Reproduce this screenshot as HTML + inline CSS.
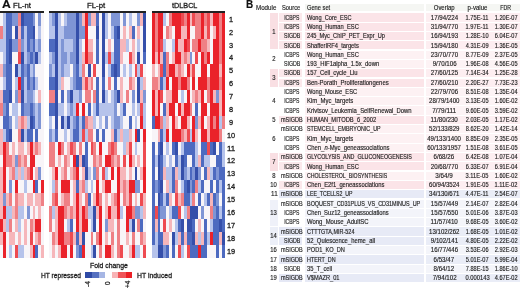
<!DOCTYPE html>
<html><head><meta charset="utf-8"><style>
html,body{margin:0;padding:0;background:#fff;}
body{width:520px;height:288px;position:relative;overflow:hidden;font-family:"Liberation Sans",sans-serif;}
.t{position:absolute;white-space:nowrap;line-height:1;-webkit-text-stroke:0.15px currentColor;}
.bx{position:absolute;}
svg{position:absolute;left:0;top:0;}
#wrap{position:absolute;left:0;top:0;width:520px;height:288px;filter:blur(0.3px);}
</style></head><body><div id="wrap">
<div class="bx" style="left:304.9px;top:3.6px;width:119.4px;height:7.9px;background:#f5f6f3"></div><div class="bx" style="left:426px;top:3.6px;width:94px;height:7.9px;background:#f5f6f3"></div><div class="bx" style="left:278.6px;top:13.35px;width:23.8px;height:8.2px;background:#fbe8eb"></div><div class="bx" style="left:304.9px;top:13.35px;width:119.4px;height:8.2px;background:#fbe4e8"></div><div class="bx" style="left:426px;top:13.35px;width:94px;height:8.2px;background:#fdeef1"></div><div class="bx" style="left:278.6px;top:22.66px;width:23.8px;height:8.2px;background:#fbe8eb"></div><div class="bx" style="left:304.9px;top:22.66px;width:119.4px;height:8.2px;background:#fbe4e8"></div><div class="bx" style="left:426px;top:22.66px;width:94px;height:8.2px;background:#fdeef1"></div><div class="bx" style="left:278.6px;top:31.97px;width:23.8px;height:8.2px;background:#fbe8eb"></div><div class="bx" style="left:304.9px;top:31.97px;width:119.4px;height:8.2px;background:#fbe4e8"></div><div class="bx" style="left:426px;top:31.97px;width:94px;height:8.2px;background:#fdeef1"></div><div class="bx" style="left:278.6px;top:41.28px;width:23.8px;height:8.2px;background:#fbe8eb"></div><div class="bx" style="left:304.9px;top:41.28px;width:119.4px;height:8.2px;background:#fbe4e8"></div><div class="bx" style="left:426px;top:41.28px;width:94px;height:8.2px;background:#fdeef1"></div><div class="bx" style="left:304.9px;top:50.59px;width:119.4px;height:8.2px;background:#fdf1f3"></div><div class="bx" style="left:426px;top:50.59px;width:94px;height:8.2px;background:#fdf3f5"></div><div class="bx" style="left:304.9px;top:59.90px;width:119.4px;height:8.2px;background:#fdf1f3"></div><div class="bx" style="left:426px;top:59.90px;width:94px;height:8.2px;background:#fdf3f5"></div><div class="bx" style="left:278.6px;top:69.21px;width:23.8px;height:8.2px;background:#fbe8eb"></div><div class="bx" style="left:304.9px;top:69.21px;width:119.4px;height:8.2px;background:#fbe4e8"></div><div class="bx" style="left:426px;top:69.21px;width:94px;height:8.2px;background:#fdeef1"></div><div class="bx" style="left:278.6px;top:78.52px;width:23.8px;height:8.2px;background:#fbe8eb"></div><div class="bx" style="left:304.9px;top:78.52px;width:119.4px;height:8.2px;background:#fbe4e8"></div><div class="bx" style="left:426px;top:78.52px;width:94px;height:8.2px;background:#fdeef1"></div><div class="bx" style="left:304.9px;top:87.83px;width:119.4px;height:8.2px;background:#fdf1f3"></div><div class="bx" style="left:426px;top:87.83px;width:94px;height:8.2px;background:#fdf3f5"></div><div class="bx" style="left:304.9px;top:97.14px;width:119.4px;height:8.2px;background:#fdf1f3"></div><div class="bx" style="left:426px;top:97.14px;width:94px;height:8.2px;background:#fdf3f5"></div><div class="bx" style="left:304.9px;top:106.45px;width:119.4px;height:8.2px;background:#fdf1f3"></div><div class="bx" style="left:426px;top:106.45px;width:94px;height:8.2px;background:#fdf3f5"></div><div class="bx" style="left:278.6px;top:115.76px;width:23.8px;height:8.2px;background:#fbe8eb"></div><div class="bx" style="left:304.9px;top:115.76px;width:119.4px;height:8.2px;background:#fbe4e8"></div><div class="bx" style="left:426px;top:115.76px;width:94px;height:8.2px;background:#fdeef1"></div><div class="bx" style="left:304.9px;top:125.07px;width:119.4px;height:8.2px;background:#fdf1f3"></div><div class="bx" style="left:426px;top:125.07px;width:94px;height:8.2px;background:#fdf3f5"></div><div class="bx" style="left:304.9px;top:134.38px;width:119.4px;height:8.2px;background:#fdf1f3"></div><div class="bx" style="left:426px;top:134.38px;width:94px;height:8.2px;background:#fdf3f5"></div><div class="bx" style="left:304.9px;top:143.69px;width:119.4px;height:8.2px;background:#fdf1f3"></div><div class="bx" style="left:426px;top:143.69px;width:94px;height:8.2px;background:#fdf3f5"></div><div class="bx" style="left:278.6px;top:153.00px;width:23.8px;height:8.2px;background:#fbe8eb"></div><div class="bx" style="left:304.9px;top:153.00px;width:119.4px;height:8.2px;background:#fbe4e8"></div><div class="bx" style="left:426px;top:153.00px;width:94px;height:8.2px;background:#fdeef1"></div><div class="bx" style="left:278.6px;top:162.31px;width:23.8px;height:8.2px;background:#fbe8eb"></div><div class="bx" style="left:304.9px;top:162.31px;width:119.4px;height:8.2px;background:#fbe4e8"></div><div class="bx" style="left:426px;top:162.31px;width:94px;height:8.2px;background:#fdeef1"></div><div class="bx" style="left:304.9px;top:171.62px;width:119.4px;height:8.2px;background:#fdf1f3"></div><div class="bx" style="left:426px;top:171.62px;width:94px;height:8.2px;background:#fdf3f5"></div><div class="bx" style="left:278.6px;top:180.93px;width:23.8px;height:8.2px;background:#fbe8eb"></div><div class="bx" style="left:304.9px;top:180.93px;width:119.4px;height:8.2px;background:#fbe4e8"></div><div class="bx" style="left:426px;top:180.93px;width:94px;height:8.2px;background:#fdeef1"></div><div class="bx" style="left:278.6px;top:190.24px;width:23.8px;height:8.2px;background:#e5e8f5"></div><div class="bx" style="left:304.9px;top:190.24px;width:119.4px;height:8.2px;background:#e7eaf6"></div><div class="bx" style="left:426px;top:190.24px;width:94px;height:8.2px;background:#eaedf7"></div><div class="bx" style="left:304.9px;top:199.55px;width:119.4px;height:8.2px;background:#f3f4fa"></div><div class="bx" style="left:426px;top:199.55px;width:94px;height:8.2px;background:#f4f5fa"></div><div class="bx" style="left:304.9px;top:208.86px;width:119.4px;height:8.2px;background:#f3f4fa"></div><div class="bx" style="left:426px;top:208.86px;width:94px;height:8.2px;background:#f4f5fa"></div><div class="bx" style="left:304.9px;top:218.17px;width:119.4px;height:8.2px;background:#f3f4fa"></div><div class="bx" style="left:426px;top:218.17px;width:94px;height:8.2px;background:#f4f5fa"></div><div class="bx" style="left:278.6px;top:227.48px;width:23.8px;height:8.2px;background:#e5e8f5"></div><div class="bx" style="left:304.9px;top:227.48px;width:119.4px;height:8.2px;background:#e7eaf6"></div><div class="bx" style="left:426px;top:227.48px;width:94px;height:8.2px;background:#eaedf7"></div><div class="bx" style="left:278.6px;top:236.79px;width:23.8px;height:8.2px;background:#e5e8f5"></div><div class="bx" style="left:304.9px;top:236.79px;width:119.4px;height:8.2px;background:#e7eaf6"></div><div class="bx" style="left:426px;top:236.79px;width:94px;height:8.2px;background:#eaedf7"></div><div class="bx" style="left:304.9px;top:246.10px;width:119.4px;height:8.2px;background:#f3f4fa"></div><div class="bx" style="left:426px;top:246.10px;width:94px;height:8.2px;background:#f4f5fa"></div><div class="bx" style="left:278.6px;top:255.41px;width:23.8px;height:8.2px;background:#e5e8f5"></div><div class="bx" style="left:304.9px;top:255.41px;width:119.4px;height:8.2px;background:#e7eaf6"></div><div class="bx" style="left:426px;top:255.41px;width:94px;height:8.2px;background:#eaedf7"></div><div class="bx" style="left:304.9px;top:264.72px;width:119.4px;height:8.2px;background:#f3f4fa"></div><div class="bx" style="left:426px;top:264.72px;width:94px;height:8.2px;background:#f4f5fa"></div><div class="bx" style="left:278.6px;top:274.03px;width:23.8px;height:8.2px;background:#e5e8f5"></div><div class="bx" style="left:304.9px;top:274.03px;width:119.4px;height:8.2px;background:#e7eaf6"></div><div class="bx" style="left:426px;top:274.03px;width:94px;height:8.2px;background:#eaedf7"></div><div class="bx" style="left:270.3px;top:13.35px;width:7.4px;height:36.13px;background:#f9dfe3"></div><div class="bx" style="left:270.3px;top:69.21px;width:7.4px;height:17.51px;background:#f9dfe3"></div><div class="bx" style="left:270.3px;top:153.00px;width:7.4px;height:17.51px;background:#f9dfe3"></div><div class="bx" style="left:270.3px;top:199.55px;width:7.4px;height:26.82px;background:#eff1f9"></div><div class="bx" style="left:270.3px;top:227.48px;width:7.4px;height:17.51px;background:#eceff8"></div>
<svg width="520" height="288" viewBox="0 0 520 288" shape-rendering="crispEdges">
<defs><filter id="bl" x="-2%" y="-2%" width="104%" height="104%"><feGaussianBlur stdDeviation="0.45"/></filter></defs>
<g filter="url(#bl)">
<rect x="0.30" y="12.90" width="2.93" height="12.88" fill="#f8f5f8"/>
<rect x="3.23" y="12.90" width="2.93" height="12.88" fill="#b6c3eb"/>
<rect x="6.16" y="12.90" width="5.86" height="12.88" fill="#4d6bc0"/>
<rect x="12.02" y="12.90" width="5.86" height="12.88" fill="#7f95d5"/>
<rect x="17.88" y="12.90" width="2.93" height="12.88" fill="#ef8085"/>
<rect x="20.81" y="12.90" width="2.93" height="12.88" fill="#3550aa"/>
<rect x="23.74" y="12.90" width="8.79" height="12.88" fill="#4d6bc0"/>
<rect x="32.53" y="12.90" width="2.93" height="12.88" fill="#7f95d5"/>
<rect x="35.46" y="12.90" width="2.93" height="12.88" fill="#f8f5f8"/>
<rect x="38.39" y="12.90" width="2.93" height="12.88" fill="#7f95d5"/>
<rect x="41.32" y="12.90" width="2.93" height="12.88" fill="#f8f5f8"/>
<rect x="49.40" y="12.90" width="2.94" height="12.88" fill="#b6c3eb"/>
<rect x="52.34" y="12.90" width="2.94" height="12.88" fill="#7f95d5"/>
<rect x="55.27" y="12.90" width="2.94" height="12.88" fill="#3550aa"/>
<rect x="58.21" y="12.90" width="2.94" height="12.88" fill="#b6c3eb"/>
<rect x="61.14" y="12.90" width="2.94" height="12.88" fill="#f8f5f8"/>
<rect x="64.08" y="12.90" width="2.94" height="12.88" fill="#b6c3eb"/>
<rect x="67.02" y="12.90" width="8.81" height="12.88" fill="#7f95d5"/>
<rect x="75.82" y="12.90" width="2.94" height="12.88" fill="#3550aa"/>
<rect x="78.76" y="12.90" width="2.94" height="12.88" fill="#7f95d5"/>
<rect x="81.70" y="12.90" width="2.94" height="12.88" fill="#f6b6ba"/>
<rect x="84.63" y="12.90" width="2.94" height="12.88" fill="#ea2129"/>
<rect x="87.57" y="12.90" width="2.94" height="12.88" fill="#7f95d5"/>
<rect x="90.50" y="12.90" width="5.87" height="12.88" fill="#f6b6ba"/>
<rect x="96.38" y="12.90" width="2.94" height="12.88" fill="#4d6bc0"/>
<rect x="99.31" y="12.90" width="2.94" height="12.88" fill="#f8f5f8"/>
<rect x="102.25" y="12.90" width="2.94" height="12.88" fill="#3550aa"/>
<rect x="105.18" y="12.90" width="2.94" height="12.88" fill="#b6c3eb"/>
<rect x="108.12" y="12.90" width="2.94" height="12.88" fill="#f8f5f8"/>
<rect x="111.06" y="12.90" width="8.81" height="12.88" fill="#7f95d5"/>
<rect x="119.86" y="12.90" width="2.94" height="12.88" fill="#f8f5f8"/>
<rect x="122.80" y="12.90" width="2.94" height="12.88" fill="#7f95d5"/>
<rect x="125.74" y="12.90" width="2.94" height="12.88" fill="#f8f5f8"/>
<rect x="128.67" y="12.90" width="2.94" height="12.88" fill="#b6c3eb"/>
<rect x="131.61" y="12.90" width="5.87" height="12.88" fill="#f8f5f8"/>
<rect x="137.48" y="12.90" width="2.94" height="12.88" fill="#7f95d5"/>
<rect x="140.42" y="12.90" width="2.94" height="12.88" fill="#f6b6ba"/>
<rect x="143.35" y="12.90" width="2.94" height="12.88" fill="#3550aa"/>
<rect x="151.70" y="12.90" width="2.91" height="12.88" fill="#ea2129"/>
<rect x="154.61" y="12.90" width="2.91" height="12.88" fill="#ef8085"/>
<rect x="157.52" y="12.90" width="5.82" height="12.88" fill="#ea2129"/>
<rect x="163.35" y="12.90" width="2.91" height="12.88" fill="#b6c3eb"/>
<rect x="166.26" y="12.90" width="2.91" height="12.88" fill="#f8f5f8"/>
<rect x="169.17" y="12.90" width="2.91" height="12.88" fill="#ef8085"/>
<rect x="172.08" y="12.90" width="8.74" height="12.88" fill="#ea2129"/>
<rect x="180.82" y="12.90" width="2.91" height="12.88" fill="#ee4c51"/>
<rect x="183.73" y="12.90" width="2.91" height="12.88" fill="#ef8085"/>
<rect x="186.64" y="12.90" width="2.91" height="12.88" fill="#ea2129"/>
<rect x="189.56" y="12.90" width="2.91" height="12.88" fill="#f6b6ba"/>
<rect x="192.47" y="12.90" width="2.91" height="12.88" fill="#ee4c51"/>
<rect x="195.38" y="12.90" width="5.82" height="12.88" fill="#ef8085"/>
<rect x="201.20" y="12.90" width="2.91" height="12.88" fill="#ea2129"/>
<rect x="204.12" y="12.90" width="2.91" height="12.88" fill="#ef8085"/>
<rect x="207.03" y="12.90" width="2.91" height="12.88" fill="#ee4c51"/>
<rect x="209.94" y="12.90" width="2.91" height="12.88" fill="#f6b6ba"/>
<rect x="212.85" y="12.90" width="5.82" height="12.88" fill="#ea2129"/>
<rect x="218.68" y="12.90" width="2.91" height="12.88" fill="#ef8085"/>
<rect x="221.59" y="12.90" width="2.91" height="12.88" fill="#ea2129"/>
<rect x="0.30" y="25.78" width="2.93" height="12.88" fill="#ef8085"/>
<rect x="3.23" y="25.78" width="2.93" height="12.88" fill="#b6c3eb"/>
<rect x="6.16" y="25.78" width="5.86" height="12.88" fill="#4d6bc0"/>
<rect x="12.02" y="25.78" width="2.93" height="12.88" fill="#f8f5f8"/>
<rect x="14.95" y="25.78" width="2.93" height="12.88" fill="#3550aa"/>
<rect x="17.88" y="25.78" width="2.93" height="12.88" fill="#f6b6ba"/>
<rect x="20.81" y="25.78" width="2.93" height="12.88" fill="#4d6bc0"/>
<rect x="23.74" y="25.78" width="2.93" height="12.88" fill="#b6c3eb"/>
<rect x="26.67" y="25.78" width="5.86" height="12.88" fill="#4d6bc0"/>
<rect x="32.53" y="25.78" width="2.93" height="12.88" fill="#3550aa"/>
<rect x="35.46" y="25.78" width="2.93" height="12.88" fill="#f8f5f8"/>
<rect x="38.39" y="25.78" width="2.93" height="12.88" fill="#b6c3eb"/>
<rect x="41.32" y="25.78" width="2.93" height="12.88" fill="#f8f5f8"/>
<rect x="49.40" y="25.78" width="5.87" height="12.88" fill="#b6c3eb"/>
<rect x="55.27" y="25.78" width="2.94" height="12.88" fill="#3550aa"/>
<rect x="58.21" y="25.78" width="5.87" height="12.88" fill="#b6c3eb"/>
<rect x="64.08" y="25.78" width="11.74" height="12.88" fill="#7f95d5"/>
<rect x="75.82" y="25.78" width="2.94" height="12.88" fill="#3550aa"/>
<rect x="78.76" y="25.78" width="5.87" height="12.88" fill="#7f95d5"/>
<rect x="84.63" y="25.78" width="2.94" height="12.88" fill="#ea2129"/>
<rect x="87.57" y="25.78" width="8.81" height="12.88" fill="#f8f5f8"/>
<rect x="96.38" y="25.78" width="2.94" height="12.88" fill="#3550aa"/>
<rect x="99.31" y="25.78" width="2.94" height="12.88" fill="#f8f5f8"/>
<rect x="102.25" y="25.78" width="2.94" height="12.88" fill="#3550aa"/>
<rect x="105.18" y="25.78" width="2.94" height="12.88" fill="#b6c3eb"/>
<rect x="108.12" y="25.78" width="2.94" height="12.88" fill="#f8f5f8"/>
<rect x="111.06" y="25.78" width="2.94" height="12.88" fill="#b6c3eb"/>
<rect x="113.99" y="25.78" width="2.94" height="12.88" fill="#4d6bc0"/>
<rect x="116.93" y="25.78" width="2.94" height="12.88" fill="#3550aa"/>
<rect x="119.86" y="25.78" width="2.94" height="12.88" fill="#f8f5f8"/>
<rect x="122.80" y="25.78" width="2.94" height="12.88" fill="#f6b6ba"/>
<rect x="125.74" y="25.78" width="2.94" height="12.88" fill="#f8f5f8"/>
<rect x="128.67" y="25.78" width="2.94" height="12.88" fill="#f6b6ba"/>
<rect x="131.61" y="25.78" width="2.94" height="12.88" fill="#4d6bc0"/>
<rect x="134.54" y="25.78" width="2.94" height="12.88" fill="#f8f5f8"/>
<rect x="137.48" y="25.78" width="2.94" height="12.88" fill="#f6b6ba"/>
<rect x="140.42" y="25.78" width="2.94" height="12.88" fill="#f8f5f8"/>
<rect x="143.35" y="25.78" width="2.94" height="12.88" fill="#3550aa"/>
<rect x="151.70" y="25.78" width="2.91" height="12.88" fill="#ea2129"/>
<rect x="154.61" y="25.78" width="2.91" height="12.88" fill="#ef8085"/>
<rect x="157.52" y="25.78" width="5.82" height="12.88" fill="#ea2129"/>
<rect x="163.35" y="25.78" width="2.91" height="12.88" fill="#f8f5f8"/>
<rect x="166.26" y="25.78" width="2.91" height="12.88" fill="#ef8085"/>
<rect x="169.17" y="25.78" width="2.91" height="12.88" fill="#f6b6ba"/>
<rect x="172.08" y="25.78" width="2.91" height="12.88" fill="#f8f5f8"/>
<rect x="175.00" y="25.78" width="5.82" height="12.88" fill="#ea2129"/>
<rect x="180.82" y="25.78" width="5.82" height="12.88" fill="#f6b6ba"/>
<rect x="186.64" y="25.78" width="2.91" height="12.88" fill="#ea2129"/>
<rect x="189.56" y="25.78" width="5.82" height="12.88" fill="#f8f5f8"/>
<rect x="195.38" y="25.78" width="5.82" height="12.88" fill="#ef8085"/>
<rect x="201.20" y="25.78" width="2.91" height="12.88" fill="#ea2129"/>
<rect x="204.12" y="25.78" width="2.91" height="12.88" fill="#f6b6ba"/>
<rect x="207.03" y="25.78" width="2.91" height="12.88" fill="#ee4c51"/>
<rect x="209.94" y="25.78" width="2.91" height="12.88" fill="#f8f5f8"/>
<rect x="212.85" y="25.78" width="2.91" height="12.88" fill="#f6b6ba"/>
<rect x="215.76" y="25.78" width="2.91" height="12.88" fill="#ea2129"/>
<rect x="218.68" y="25.78" width="2.91" height="12.88" fill="#ef8085"/>
<rect x="221.59" y="25.78" width="2.91" height="12.88" fill="#ea2129"/>
<rect x="0.30" y="38.65" width="5.86" height="12.88" fill="#b6c3eb"/>
<rect x="6.16" y="38.65" width="2.93" height="12.88" fill="#4d6bc0"/>
<rect x="9.09" y="38.65" width="2.93" height="12.88" fill="#3550aa"/>
<rect x="12.02" y="38.65" width="5.86" height="12.88" fill="#7f95d5"/>
<rect x="17.88" y="38.65" width="2.93" height="12.88" fill="#ef8085"/>
<rect x="20.81" y="38.65" width="2.93" height="12.88" fill="#7f95d5"/>
<rect x="23.74" y="38.65" width="2.93" height="12.88" fill="#b6c3eb"/>
<rect x="26.67" y="38.65" width="2.93" height="12.88" fill="#4d6bc0"/>
<rect x="29.60" y="38.65" width="2.93" height="12.88" fill="#7f95d5"/>
<rect x="32.53" y="38.65" width="2.93" height="12.88" fill="#4d6bc0"/>
<rect x="35.46" y="38.65" width="2.93" height="12.88" fill="#b6c3eb"/>
<rect x="38.39" y="38.65" width="2.93" height="12.88" fill="#7f95d5"/>
<rect x="41.32" y="38.65" width="2.93" height="12.88" fill="#f8f5f8"/>
<rect x="49.40" y="38.65" width="5.87" height="12.88" fill="#4d6bc0"/>
<rect x="55.27" y="38.65" width="2.94" height="12.88" fill="#3550aa"/>
<rect x="58.21" y="38.65" width="2.94" height="12.88" fill="#b6c3eb"/>
<rect x="61.14" y="38.65" width="2.94" height="12.88" fill="#7f95d5"/>
<rect x="64.08" y="38.65" width="8.81" height="12.88" fill="#b6c3eb"/>
<rect x="72.89" y="38.65" width="2.94" height="12.88" fill="#7f95d5"/>
<rect x="75.82" y="38.65" width="2.94" height="12.88" fill="#3550aa"/>
<rect x="78.76" y="38.65" width="2.94" height="12.88" fill="#b6c3eb"/>
<rect x="81.70" y="38.65" width="2.94" height="12.88" fill="#f8f5f8"/>
<rect x="84.63" y="38.65" width="2.94" height="12.88" fill="#ea2129"/>
<rect x="87.57" y="38.65" width="5.87" height="12.88" fill="#f6b6ba"/>
<rect x="93.44" y="38.65" width="2.94" height="12.88" fill="#f8f5f8"/>
<rect x="96.38" y="38.65" width="2.94" height="12.88" fill="#4d6bc0"/>
<rect x="99.31" y="38.65" width="2.94" height="12.88" fill="#f8f5f8"/>
<rect x="102.25" y="38.65" width="2.94" height="12.88" fill="#3550aa"/>
<rect x="105.18" y="38.65" width="2.94" height="12.88" fill="#f8f5f8"/>
<rect x="108.12" y="38.65" width="2.94" height="12.88" fill="#f6b6ba"/>
<rect x="111.06" y="38.65" width="2.94" height="12.88" fill="#f8f5f8"/>
<rect x="113.99" y="38.65" width="5.87" height="12.88" fill="#4d6bc0"/>
<rect x="119.86" y="38.65" width="5.87" height="12.88" fill="#f6b6ba"/>
<rect x="125.74" y="38.65" width="2.94" height="12.88" fill="#b6c3eb"/>
<rect x="128.67" y="38.65" width="2.94" height="12.88" fill="#f8f5f8"/>
<rect x="131.61" y="38.65" width="2.94" height="12.88" fill="#f6b6ba"/>
<rect x="134.54" y="38.65" width="2.94" height="12.88" fill="#f8f5f8"/>
<rect x="137.48" y="38.65" width="2.94" height="12.88" fill="#b6c3eb"/>
<rect x="140.42" y="38.65" width="2.94" height="12.88" fill="#f8f5f8"/>
<rect x="143.35" y="38.65" width="2.94" height="12.88" fill="#3550aa"/>
<rect x="151.70" y="38.65" width="2.91" height="12.88" fill="#ea2129"/>
<rect x="154.61" y="38.65" width="2.91" height="12.88" fill="#ef8085"/>
<rect x="157.52" y="38.65" width="2.91" height="12.88" fill="#ea2129"/>
<rect x="160.44" y="38.65" width="2.91" height="12.88" fill="#ee4c51"/>
<rect x="163.35" y="38.65" width="2.91" height="12.88" fill="#b6c3eb"/>
<rect x="166.26" y="38.65" width="5.82" height="12.88" fill="#f8f5f8"/>
<rect x="172.08" y="38.65" width="2.91" height="12.88" fill="#b6c3eb"/>
<rect x="175.00" y="38.65" width="2.91" height="12.88" fill="#ea2129"/>
<rect x="177.91" y="38.65" width="5.82" height="12.88" fill="#f6b6ba"/>
<rect x="183.73" y="38.65" width="2.91" height="12.88" fill="#ea2129"/>
<rect x="186.64" y="38.65" width="2.91" height="12.88" fill="#ee4c51"/>
<rect x="189.56" y="38.65" width="2.91" height="12.88" fill="#f8f5f8"/>
<rect x="192.47" y="38.65" width="5.82" height="12.88" fill="#ef8085"/>
<rect x="198.29" y="38.65" width="2.91" height="12.88" fill="#ea2129"/>
<rect x="201.20" y="38.65" width="5.82" height="12.88" fill="#ef8085"/>
<rect x="207.03" y="38.65" width="2.91" height="12.88" fill="#f6b6ba"/>
<rect x="209.94" y="38.65" width="2.91" height="12.88" fill="#f8f5f8"/>
<rect x="212.85" y="38.65" width="5.82" height="12.88" fill="#ea2129"/>
<rect x="218.68" y="38.65" width="2.91" height="12.88" fill="#ef8085"/>
<rect x="221.59" y="38.65" width="2.91" height="12.88" fill="#ea2129"/>
<rect x="0.30" y="51.53" width="2.93" height="12.88" fill="#f8f5f8"/>
<rect x="3.23" y="51.53" width="2.93" height="12.88" fill="#b6c3eb"/>
<rect x="6.16" y="51.53" width="2.93" height="12.88" fill="#4d6bc0"/>
<rect x="9.09" y="51.53" width="2.93" height="12.88" fill="#3550aa"/>
<rect x="12.02" y="51.53" width="5.86" height="12.88" fill="#f8f5f8"/>
<rect x="17.88" y="51.53" width="2.93" height="12.88" fill="#ee4c51"/>
<rect x="20.81" y="51.53" width="2.93" height="12.88" fill="#3550aa"/>
<rect x="23.74" y="51.53" width="2.93" height="12.88" fill="#b6c3eb"/>
<rect x="26.67" y="51.53" width="2.93" height="12.88" fill="#7f95d5"/>
<rect x="29.60" y="51.53" width="2.93" height="12.88" fill="#4d6bc0"/>
<rect x="32.53" y="51.53" width="2.93" height="12.88" fill="#7f95d5"/>
<rect x="35.46" y="51.53" width="2.93" height="12.88" fill="#3550aa"/>
<rect x="38.39" y="51.53" width="2.93" height="12.88" fill="#b6c3eb"/>
<rect x="41.32" y="51.53" width="2.93" height="12.88" fill="#f8f5f8"/>
<rect x="49.40" y="51.53" width="2.94" height="12.88" fill="#b6c3eb"/>
<rect x="52.34" y="51.53" width="2.94" height="12.88" fill="#7f95d5"/>
<rect x="55.27" y="51.53" width="2.94" height="12.88" fill="#3550aa"/>
<rect x="58.21" y="51.53" width="2.94" height="12.88" fill="#b6c3eb"/>
<rect x="61.14" y="51.53" width="5.87" height="12.88" fill="#7f95d5"/>
<rect x="67.02" y="51.53" width="2.94" height="12.88" fill="#b6c3eb"/>
<rect x="69.95" y="51.53" width="5.87" height="12.88" fill="#7f95d5"/>
<rect x="75.82" y="51.53" width="2.94" height="12.88" fill="#3550aa"/>
<rect x="78.76" y="51.53" width="2.94" height="12.88" fill="#b6c3eb"/>
<rect x="81.70" y="51.53" width="2.94" height="12.88" fill="#f6b6ba"/>
<rect x="84.63" y="51.53" width="2.94" height="12.88" fill="#ea2129"/>
<rect x="87.57" y="51.53" width="5.87" height="12.88" fill="#ef8085"/>
<rect x="93.44" y="51.53" width="2.94" height="12.88" fill="#f8f5f8"/>
<rect x="96.38" y="51.53" width="2.94" height="12.88" fill="#4d6bc0"/>
<rect x="99.31" y="51.53" width="2.94" height="12.88" fill="#f8f5f8"/>
<rect x="102.25" y="51.53" width="2.94" height="12.88" fill="#3550aa"/>
<rect x="105.18" y="51.53" width="2.94" height="12.88" fill="#b6c3eb"/>
<rect x="108.12" y="51.53" width="2.94" height="12.88" fill="#ee4c51"/>
<rect x="111.06" y="51.53" width="2.94" height="12.88" fill="#b6c3eb"/>
<rect x="113.99" y="51.53" width="5.87" height="12.88" fill="#4d6bc0"/>
<rect x="119.86" y="51.53" width="2.94" height="12.88" fill="#f6b6ba"/>
<rect x="122.80" y="51.53" width="5.87" height="12.88" fill="#f8f5f8"/>
<rect x="128.67" y="51.53" width="2.94" height="12.88" fill="#ee4c51"/>
<rect x="131.61" y="51.53" width="2.94" height="12.88" fill="#f6b6ba"/>
<rect x="134.54" y="51.53" width="2.94" height="12.88" fill="#f8f5f8"/>
<rect x="137.48" y="51.53" width="2.94" height="12.88" fill="#3550aa"/>
<rect x="140.42" y="51.53" width="2.94" height="12.88" fill="#f8f5f8"/>
<rect x="143.35" y="51.53" width="2.94" height="12.88" fill="#4d6bc0"/>
<rect x="151.70" y="51.53" width="2.91" height="12.88" fill="#ea2129"/>
<rect x="154.61" y="51.53" width="2.91" height="12.88" fill="#f6b6ba"/>
<rect x="157.52" y="51.53" width="2.91" height="12.88" fill="#ea2129"/>
<rect x="160.44" y="51.53" width="2.91" height="12.88" fill="#f6b6ba"/>
<rect x="163.35" y="51.53" width="2.91" height="12.88" fill="#4d6bc0"/>
<rect x="166.26" y="51.53" width="2.91" height="12.88" fill="#ef8085"/>
<rect x="169.17" y="51.53" width="2.91" height="12.88" fill="#f8f5f8"/>
<rect x="172.08" y="51.53" width="2.91" height="12.88" fill="#f6b6ba"/>
<rect x="175.00" y="51.53" width="5.82" height="12.88" fill="#ea2129"/>
<rect x="180.82" y="51.53" width="2.91" height="12.88" fill="#f6b6ba"/>
<rect x="183.73" y="51.53" width="2.91" height="12.88" fill="#ef8085"/>
<rect x="186.64" y="51.53" width="2.91" height="12.88" fill="#f6b6ba"/>
<rect x="189.56" y="51.53" width="2.91" height="12.88" fill="#7f95d5"/>
<rect x="192.47" y="51.53" width="2.91" height="12.88" fill="#f8f5f8"/>
<rect x="195.38" y="51.53" width="2.91" height="12.88" fill="#ee4c51"/>
<rect x="198.29" y="51.53" width="2.91" height="12.88" fill="#f8f5f8"/>
<rect x="201.20" y="51.53" width="2.91" height="12.88" fill="#ea2129"/>
<rect x="204.12" y="51.53" width="2.91" height="12.88" fill="#ef8085"/>
<rect x="207.03" y="51.53" width="2.91" height="12.88" fill="#ea2129"/>
<rect x="209.94" y="51.53" width="2.91" height="12.88" fill="#f8f5f8"/>
<rect x="212.85" y="51.53" width="5.82" height="12.88" fill="#ea2129"/>
<rect x="218.68" y="51.53" width="2.91" height="12.88" fill="#ef8085"/>
<rect x="221.59" y="51.53" width="2.91" height="12.88" fill="#ea2129"/>
<rect x="0.30" y="64.40" width="2.93" height="12.88" fill="#f6b6ba"/>
<rect x="3.23" y="64.40" width="2.93" height="12.88" fill="#7f95d5"/>
<rect x="6.16" y="64.40" width="5.86" height="12.88" fill="#4d6bc0"/>
<rect x="12.02" y="64.40" width="2.93" height="12.88" fill="#f8f5f8"/>
<rect x="14.95" y="64.40" width="2.93" height="12.88" fill="#3550aa"/>
<rect x="17.88" y="64.40" width="2.93" height="12.88" fill="#b6c3eb"/>
<rect x="20.81" y="64.40" width="2.93" height="12.88" fill="#4d6bc0"/>
<rect x="23.74" y="64.40" width="2.93" height="12.88" fill="#7f95d5"/>
<rect x="26.67" y="64.40" width="2.93" height="12.88" fill="#4d6bc0"/>
<rect x="29.60" y="64.40" width="2.93" height="12.88" fill="#b6c3eb"/>
<rect x="32.53" y="64.40" width="2.93" height="12.88" fill="#7f95d5"/>
<rect x="35.46" y="64.40" width="8.79" height="12.88" fill="#f8f5f8"/>
<rect x="49.40" y="64.40" width="2.94" height="12.88" fill="#7f95d5"/>
<rect x="52.34" y="64.40" width="2.94" height="12.88" fill="#b6c3eb"/>
<rect x="55.27" y="64.40" width="2.94" height="12.88" fill="#3550aa"/>
<rect x="58.21" y="64.40" width="2.94" height="12.88" fill="#b6c3eb"/>
<rect x="61.14" y="64.40" width="2.94" height="12.88" fill="#7f95d5"/>
<rect x="64.08" y="64.40" width="5.87" height="12.88" fill="#b6c3eb"/>
<rect x="69.95" y="64.40" width="2.94" height="12.88" fill="#f8f5f8"/>
<rect x="72.89" y="64.40" width="2.94" height="12.88" fill="#7f95d5"/>
<rect x="75.82" y="64.40" width="2.94" height="12.88" fill="#4d6bc0"/>
<rect x="78.76" y="64.40" width="2.94" height="12.88" fill="#b6c3eb"/>
<rect x="81.70" y="64.40" width="2.94" height="12.88" fill="#ef8085"/>
<rect x="84.63" y="64.40" width="2.94" height="12.88" fill="#f8f5f8"/>
<rect x="87.57" y="64.40" width="2.94" height="12.88" fill="#3550aa"/>
<rect x="90.50" y="64.40" width="2.94" height="12.88" fill="#f8f5f8"/>
<rect x="93.44" y="64.40" width="2.94" height="12.88" fill="#ee4c51"/>
<rect x="96.38" y="64.40" width="5.87" height="12.88" fill="#f8f5f8"/>
<rect x="102.25" y="64.40" width="2.94" height="12.88" fill="#3550aa"/>
<rect x="105.18" y="64.40" width="2.94" height="12.88" fill="#f8f5f8"/>
<rect x="108.12" y="64.40" width="2.94" height="12.88" fill="#b6c3eb"/>
<rect x="111.06" y="64.40" width="2.94" height="12.88" fill="#4d6bc0"/>
<rect x="113.99" y="64.40" width="2.94" height="12.88" fill="#3550aa"/>
<rect x="116.93" y="64.40" width="2.94" height="12.88" fill="#4d6bc0"/>
<rect x="119.86" y="64.40" width="2.94" height="12.88" fill="#f8f5f8"/>
<rect x="122.80" y="64.40" width="2.94" height="12.88" fill="#b6c3eb"/>
<rect x="125.74" y="64.40" width="2.94" height="12.88" fill="#f8f5f8"/>
<rect x="128.67" y="64.40" width="2.94" height="12.88" fill="#b6c3eb"/>
<rect x="131.61" y="64.40" width="2.94" height="12.88" fill="#f8f5f8"/>
<rect x="134.54" y="64.40" width="2.94" height="12.88" fill="#ee4c51"/>
<rect x="137.48" y="64.40" width="2.94" height="12.88" fill="#b6c3eb"/>
<rect x="140.42" y="64.40" width="2.94" height="12.88" fill="#ee4c51"/>
<rect x="143.35" y="64.40" width="2.94" height="12.88" fill="#f8f5f8"/>
<rect x="151.70" y="64.40" width="2.91" height="12.88" fill="#f6b6ba"/>
<rect x="154.61" y="64.40" width="2.91" height="12.88" fill="#f8f5f8"/>
<rect x="157.52" y="64.40" width="2.91" height="12.88" fill="#f6b6ba"/>
<rect x="160.44" y="64.40" width="2.91" height="12.88" fill="#ee4c51"/>
<rect x="163.35" y="64.40" width="2.91" height="12.88" fill="#4d6bc0"/>
<rect x="166.26" y="64.40" width="2.91" height="12.88" fill="#ef8085"/>
<rect x="169.17" y="64.40" width="5.82" height="12.88" fill="#ea2129"/>
<rect x="175.00" y="64.40" width="2.91" height="12.88" fill="#f6b6ba"/>
<rect x="177.91" y="64.40" width="2.91" height="12.88" fill="#ef8085"/>
<rect x="180.82" y="64.40" width="2.91" height="12.88" fill="#f6b6ba"/>
<rect x="183.73" y="64.40" width="2.91" height="12.88" fill="#f8f5f8"/>
<rect x="186.64" y="64.40" width="2.91" height="12.88" fill="#ea2129"/>
<rect x="189.56" y="64.40" width="2.91" height="12.88" fill="#f6b6ba"/>
<rect x="192.47" y="64.40" width="2.91" height="12.88" fill="#ee4c51"/>
<rect x="195.38" y="64.40" width="5.82" height="12.88" fill="#f8f5f8"/>
<rect x="201.20" y="64.40" width="5.82" height="12.88" fill="#ea2129"/>
<rect x="207.03" y="64.40" width="2.91" height="12.88" fill="#f8f5f8"/>
<rect x="209.94" y="64.40" width="8.74" height="12.88" fill="#ea2129"/>
<rect x="218.68" y="64.40" width="2.91" height="12.88" fill="#f6b6ba"/>
<rect x="221.59" y="64.40" width="2.91" height="12.88" fill="#ea2129"/>
<rect x="0.30" y="77.28" width="2.93" height="12.88" fill="#f8f5f8"/>
<rect x="3.23" y="77.28" width="2.93" height="12.88" fill="#b6c3eb"/>
<rect x="6.16" y="77.28" width="5.86" height="12.88" fill="#4d6bc0"/>
<rect x="12.02" y="77.28" width="2.93" height="12.88" fill="#f8f5f8"/>
<rect x="14.95" y="77.28" width="2.93" height="12.88" fill="#b6c3eb"/>
<rect x="17.88" y="77.28" width="2.93" height="12.88" fill="#ea2129"/>
<rect x="20.81" y="77.28" width="2.93" height="12.88" fill="#4d6bc0"/>
<rect x="23.74" y="77.28" width="2.93" height="12.88" fill="#b6c3eb"/>
<rect x="26.67" y="77.28" width="2.93" height="12.88" fill="#4d6bc0"/>
<rect x="29.60" y="77.28" width="2.93" height="12.88" fill="#7f95d5"/>
<rect x="32.53" y="77.28" width="2.93" height="12.88" fill="#4d6bc0"/>
<rect x="35.46" y="77.28" width="2.93" height="12.88" fill="#b6c3eb"/>
<rect x="38.39" y="77.28" width="5.86" height="12.88" fill="#f8f5f8"/>
<rect x="49.40" y="77.28" width="5.87" height="12.88" fill="#4d6bc0"/>
<rect x="55.27" y="77.28" width="2.94" height="12.88" fill="#3550aa"/>
<rect x="58.21" y="77.28" width="2.94" height="12.88" fill="#b6c3eb"/>
<rect x="61.14" y="77.28" width="2.94" height="12.88" fill="#f6b6ba"/>
<rect x="64.08" y="77.28" width="5.87" height="12.88" fill="#f8f5f8"/>
<rect x="69.95" y="77.28" width="2.94" height="12.88" fill="#b6c3eb"/>
<rect x="72.89" y="77.28" width="2.94" height="12.88" fill="#7f95d5"/>
<rect x="75.82" y="77.28" width="5.87" height="12.88" fill="#4d6bc0"/>
<rect x="81.70" y="77.28" width="2.94" height="12.88" fill="#f6b6ba"/>
<rect x="84.63" y="77.28" width="2.94" height="12.88" fill="#ee4c51"/>
<rect x="87.57" y="77.28" width="2.94" height="12.88" fill="#f6b6ba"/>
<rect x="90.50" y="77.28" width="2.94" height="12.88" fill="#ef8085"/>
<rect x="93.44" y="77.28" width="2.94" height="12.88" fill="#f8f5f8"/>
<rect x="96.38" y="77.28" width="2.94" height="12.88" fill="#4d6bc0"/>
<rect x="99.31" y="77.28" width="2.94" height="12.88" fill="#f8f5f8"/>
<rect x="102.25" y="77.28" width="2.94" height="12.88" fill="#4d6bc0"/>
<rect x="105.18" y="77.28" width="2.94" height="12.88" fill="#f8f5f8"/>
<rect x="108.12" y="77.28" width="2.94" height="12.88" fill="#ef8085"/>
<rect x="111.06" y="77.28" width="2.94" height="12.88" fill="#f8f5f8"/>
<rect x="113.99" y="77.28" width="2.94" height="12.88" fill="#4d6bc0"/>
<rect x="116.93" y="77.28" width="2.94" height="12.88" fill="#f8f5f8"/>
<rect x="119.86" y="77.28" width="2.94" height="12.88" fill="#f6b6ba"/>
<rect x="122.80" y="77.28" width="5.87" height="12.88" fill="#f8f5f8"/>
<rect x="128.67" y="77.28" width="2.94" height="12.88" fill="#ef8085"/>
<rect x="131.61" y="77.28" width="2.94" height="12.88" fill="#f6b6ba"/>
<rect x="134.54" y="77.28" width="2.94" height="12.88" fill="#f8f5f8"/>
<rect x="137.48" y="77.28" width="2.94" height="12.88" fill="#3550aa"/>
<rect x="140.42" y="77.28" width="2.94" height="12.88" fill="#b6c3eb"/>
<rect x="143.35" y="77.28" width="2.94" height="12.88" fill="#f6b6ba"/>
<rect x="151.70" y="77.28" width="5.82" height="12.88" fill="#ef8085"/>
<rect x="157.52" y="77.28" width="2.91" height="12.88" fill="#f6b6ba"/>
<rect x="160.44" y="77.28" width="2.91" height="12.88" fill="#4d6bc0"/>
<rect x="163.35" y="77.28" width="2.91" height="12.88" fill="#b6c3eb"/>
<rect x="166.26" y="77.28" width="2.91" height="12.88" fill="#ea2129"/>
<rect x="169.17" y="77.28" width="2.91" height="12.88" fill="#f8f5f8"/>
<rect x="172.08" y="77.28" width="5.82" height="12.88" fill="#ea2129"/>
<rect x="177.91" y="77.28" width="2.91" height="12.88" fill="#ef8085"/>
<rect x="180.82" y="77.28" width="5.82" height="12.88" fill="#ea2129"/>
<rect x="186.64" y="77.28" width="2.91" height="12.88" fill="#ef8085"/>
<rect x="189.56" y="77.28" width="2.91" height="12.88" fill="#f8f5f8"/>
<rect x="192.47" y="77.28" width="2.91" height="12.88" fill="#ea2129"/>
<rect x="195.38" y="77.28" width="2.91" height="12.88" fill="#f8f5f8"/>
<rect x="198.29" y="77.28" width="8.74" height="12.88" fill="#ea2129"/>
<rect x="207.03" y="77.28" width="2.91" height="12.88" fill="#ef8085"/>
<rect x="209.94" y="77.28" width="8.74" height="12.88" fill="#ea2129"/>
<rect x="218.68" y="77.28" width="2.91" height="12.88" fill="#ef8085"/>
<rect x="221.59" y="77.28" width="2.91" height="12.88" fill="#ea2129"/>
<rect x="0.30" y="90.16" width="2.93" height="12.88" fill="#f6b6ba"/>
<rect x="3.23" y="90.16" width="5.86" height="12.88" fill="#4d6bc0"/>
<rect x="9.09" y="90.16" width="2.93" height="12.88" fill="#3550aa"/>
<rect x="12.02" y="90.16" width="2.93" height="12.88" fill="#f8f5f8"/>
<rect x="14.95" y="90.16" width="2.93" height="12.88" fill="#7f95d5"/>
<rect x="17.88" y="90.16" width="2.93" height="12.88" fill="#ef8085"/>
<rect x="20.81" y="90.16" width="2.93" height="12.88" fill="#3550aa"/>
<rect x="23.74" y="90.16" width="2.93" height="12.88" fill="#b6c3eb"/>
<rect x="26.67" y="90.16" width="5.86" height="12.88" fill="#7f95d5"/>
<rect x="32.53" y="90.16" width="2.93" height="12.88" fill="#b6c3eb"/>
<rect x="35.46" y="90.16" width="2.93" height="12.88" fill="#f8f5f8"/>
<rect x="38.39" y="90.16" width="2.93" height="12.88" fill="#f6b6ba"/>
<rect x="41.32" y="90.16" width="2.93" height="12.88" fill="#f8f5f8"/>
<rect x="49.40" y="90.16" width="5.87" height="12.88" fill="#ef8085"/>
<rect x="55.27" y="90.16" width="2.94" height="12.88" fill="#3550aa"/>
<rect x="58.21" y="90.16" width="2.94" height="12.88" fill="#f8f5f8"/>
<rect x="61.14" y="90.16" width="2.94" height="12.88" fill="#4d6bc0"/>
<rect x="64.08" y="90.16" width="2.94" height="12.88" fill="#f8f5f8"/>
<rect x="67.02" y="90.16" width="2.94" height="12.88" fill="#7f95d5"/>
<rect x="69.95" y="90.16" width="2.94" height="12.88" fill="#3550aa"/>
<rect x="72.89" y="90.16" width="5.87" height="12.88" fill="#b6c3eb"/>
<rect x="78.76" y="90.16" width="2.94" height="12.88" fill="#7f95d5"/>
<rect x="81.70" y="90.16" width="2.94" height="12.88" fill="#f8f5f8"/>
<rect x="84.63" y="90.16" width="5.87" height="12.88" fill="#ef8085"/>
<rect x="90.50" y="90.16" width="2.94" height="12.88" fill="#f8f5f8"/>
<rect x="93.44" y="90.16" width="2.94" height="12.88" fill="#ef8085"/>
<rect x="96.38" y="90.16" width="2.94" height="12.88" fill="#4d6bc0"/>
<rect x="99.31" y="90.16" width="2.94" height="12.88" fill="#f8f5f8"/>
<rect x="102.25" y="90.16" width="2.94" height="12.88" fill="#3550aa"/>
<rect x="105.18" y="90.16" width="2.94" height="12.88" fill="#b6c3eb"/>
<rect x="108.12" y="90.16" width="2.94" height="12.88" fill="#f8f5f8"/>
<rect x="111.06" y="90.16" width="2.94" height="12.88" fill="#b6c3eb"/>
<rect x="113.99" y="90.16" width="2.94" height="12.88" fill="#7f95d5"/>
<rect x="116.93" y="90.16" width="2.94" height="12.88" fill="#3550aa"/>
<rect x="119.86" y="90.16" width="2.94" height="12.88" fill="#f6b6ba"/>
<rect x="122.80" y="90.16" width="2.94" height="12.88" fill="#f8f5f8"/>
<rect x="125.74" y="90.16" width="2.94" height="12.88" fill="#ef8085"/>
<rect x="128.67" y="90.16" width="2.94" height="12.88" fill="#f8f5f8"/>
<rect x="131.61" y="90.16" width="2.94" height="12.88" fill="#7f95d5"/>
<rect x="134.54" y="90.16" width="2.94" height="12.88" fill="#f8f5f8"/>
<rect x="137.48" y="90.16" width="2.94" height="12.88" fill="#3550aa"/>
<rect x="140.42" y="90.16" width="2.94" height="12.88" fill="#f6b6ba"/>
<rect x="143.35" y="90.16" width="2.94" height="12.88" fill="#7f95d5"/>
<rect x="151.70" y="90.16" width="2.91" height="12.88" fill="#ea2129"/>
<rect x="154.61" y="90.16" width="2.91" height="12.88" fill="#f6b6ba"/>
<rect x="157.52" y="90.16" width="2.91" height="12.88" fill="#ea2129"/>
<rect x="160.44" y="90.16" width="2.91" height="12.88" fill="#ee4c51"/>
<rect x="163.35" y="90.16" width="2.91" height="12.88" fill="#f8f5f8"/>
<rect x="166.26" y="90.16" width="5.82" height="12.88" fill="#f6b6ba"/>
<rect x="172.08" y="90.16" width="5.82" height="12.88" fill="#ea2129"/>
<rect x="177.91" y="90.16" width="2.91" height="12.88" fill="#f8f5f8"/>
<rect x="180.82" y="90.16" width="2.91" height="12.88" fill="#b6c3eb"/>
<rect x="183.73" y="90.16" width="2.91" height="12.88" fill="#f8f5f8"/>
<rect x="186.64" y="90.16" width="2.91" height="12.88" fill="#ea2129"/>
<rect x="189.56" y="90.16" width="2.91" height="12.88" fill="#f8f5f8"/>
<rect x="192.47" y="90.16" width="2.91" height="12.88" fill="#f6b6ba"/>
<rect x="195.38" y="90.16" width="2.91" height="12.88" fill="#ef8085"/>
<rect x="198.29" y="90.16" width="2.91" height="12.88" fill="#f6b6ba"/>
<rect x="201.20" y="90.16" width="2.91" height="12.88" fill="#ea2129"/>
<rect x="204.12" y="90.16" width="2.91" height="12.88" fill="#f8f5f8"/>
<rect x="207.03" y="90.16" width="2.91" height="12.88" fill="#ef8085"/>
<rect x="209.94" y="90.16" width="2.91" height="12.88" fill="#ea2129"/>
<rect x="212.85" y="90.16" width="2.91" height="12.88" fill="#f6b6ba"/>
<rect x="215.76" y="90.16" width="2.91" height="12.88" fill="#7f95d5"/>
<rect x="218.68" y="90.16" width="2.91" height="12.88" fill="#f6b6ba"/>
<rect x="221.59" y="90.16" width="2.91" height="12.88" fill="#ea2129"/>
<rect x="0.30" y="103.03" width="2.93" height="12.88" fill="#ef8085"/>
<rect x="3.23" y="103.03" width="2.93" height="12.88" fill="#7f95d5"/>
<rect x="6.16" y="103.03" width="2.93" height="12.88" fill="#4d6bc0"/>
<rect x="9.09" y="103.03" width="2.93" height="12.88" fill="#f8f5f8"/>
<rect x="12.02" y="103.03" width="5.86" height="12.88" fill="#b6c3eb"/>
<rect x="17.88" y="103.03" width="2.93" height="12.88" fill="#f8f5f8"/>
<rect x="20.81" y="103.03" width="2.93" height="12.88" fill="#4d6bc0"/>
<rect x="23.74" y="103.03" width="5.86" height="12.88" fill="#7f95d5"/>
<rect x="29.60" y="103.03" width="2.93" height="12.88" fill="#4d6bc0"/>
<rect x="32.53" y="103.03" width="2.93" height="12.88" fill="#7f95d5"/>
<rect x="35.46" y="103.03" width="2.93" height="12.88" fill="#b6c3eb"/>
<rect x="38.39" y="103.03" width="2.93" height="12.88" fill="#7f95d5"/>
<rect x="41.32" y="103.03" width="2.93" height="12.88" fill="#f8f5f8"/>
<rect x="49.40" y="103.03" width="5.87" height="12.88" fill="#4d6bc0"/>
<rect x="55.27" y="103.03" width="2.94" height="12.88" fill="#3550aa"/>
<rect x="58.21" y="103.03" width="5.87" height="12.88" fill="#b6c3eb"/>
<rect x="64.08" y="103.03" width="2.94" height="12.88" fill="#f8f5f8"/>
<rect x="67.02" y="103.03" width="2.94" height="12.88" fill="#b6c3eb"/>
<rect x="69.95" y="103.03" width="2.94" height="12.88" fill="#7f95d5"/>
<rect x="72.89" y="103.03" width="2.94" height="12.88" fill="#b6c3eb"/>
<rect x="75.82" y="103.03" width="2.94" height="12.88" fill="#ea2129"/>
<rect x="78.76" y="103.03" width="2.94" height="12.88" fill="#f8f5f8"/>
<rect x="81.70" y="103.03" width="2.94" height="12.88" fill="#ea2129"/>
<rect x="84.63" y="103.03" width="2.94" height="12.88" fill="#f8f5f8"/>
<rect x="87.57" y="103.03" width="2.94" height="12.88" fill="#4d6bc0"/>
<rect x="90.50" y="103.03" width="2.94" height="12.88" fill="#f8f5f8"/>
<rect x="93.44" y="103.03" width="2.94" height="12.88" fill="#b6c3eb"/>
<rect x="96.38" y="103.03" width="2.94" height="12.88" fill="#4d6bc0"/>
<rect x="99.31" y="103.03" width="14.68" height="12.88" fill="#b6c3eb"/>
<rect x="113.99" y="103.03" width="2.94" height="12.88" fill="#7f95d5"/>
<rect x="116.93" y="103.03" width="2.94" height="12.88" fill="#f8f5f8"/>
<rect x="119.86" y="103.03" width="2.94" height="12.88" fill="#b6c3eb"/>
<rect x="122.80" y="103.03" width="2.94" height="12.88" fill="#4d6bc0"/>
<rect x="125.74" y="103.03" width="5.87" height="12.88" fill="#f8f5f8"/>
<rect x="131.61" y="103.03" width="2.94" height="12.88" fill="#b6c3eb"/>
<rect x="134.54" y="103.03" width="2.94" height="12.88" fill="#f8f5f8"/>
<rect x="137.48" y="103.03" width="2.94" height="12.88" fill="#b6c3eb"/>
<rect x="140.42" y="103.03" width="2.94" height="12.88" fill="#ee4c51"/>
<rect x="143.35" y="103.03" width="2.94" height="12.88" fill="#b6c3eb"/>
<rect x="151.70" y="103.03" width="2.91" height="12.88" fill="#ea2129"/>
<rect x="154.61" y="103.03" width="2.91" height="12.88" fill="#f6b6ba"/>
<rect x="157.52" y="103.03" width="2.91" height="12.88" fill="#ea2129"/>
<rect x="160.44" y="103.03" width="2.91" height="12.88" fill="#f8f5f8"/>
<rect x="163.35" y="103.03" width="2.91" height="12.88" fill="#4d6bc0"/>
<rect x="166.26" y="103.03" width="2.91" height="12.88" fill="#f6b6ba"/>
<rect x="169.17" y="103.03" width="5.82" height="12.88" fill="#ea2129"/>
<rect x="175.00" y="103.03" width="2.91" height="12.88" fill="#f8f5f8"/>
<rect x="177.91" y="103.03" width="2.91" height="12.88" fill="#ea2129"/>
<rect x="180.82" y="103.03" width="2.91" height="12.88" fill="#f6b6ba"/>
<rect x="183.73" y="103.03" width="5.82" height="12.88" fill="#ea2129"/>
<rect x="189.56" y="103.03" width="2.91" height="12.88" fill="#ef8085"/>
<rect x="192.47" y="103.03" width="2.91" height="12.88" fill="#f8f5f8"/>
<rect x="195.38" y="103.03" width="2.91" height="12.88" fill="#4d6bc0"/>
<rect x="198.29" y="103.03" width="2.91" height="12.88" fill="#f8f5f8"/>
<rect x="201.20" y="103.03" width="5.82" height="12.88" fill="#ea2129"/>
<rect x="207.03" y="103.03" width="2.91" height="12.88" fill="#f8f5f8"/>
<rect x="209.94" y="103.03" width="8.74" height="12.88" fill="#ea2129"/>
<rect x="218.68" y="103.03" width="2.91" height="12.88" fill="#f6b6ba"/>
<rect x="221.59" y="103.03" width="2.91" height="12.88" fill="#ea2129"/>
<rect x="0.30" y="115.91" width="2.93" height="12.88" fill="#f8f5f8"/>
<rect x="3.23" y="115.91" width="5.86" height="12.88" fill="#4d6bc0"/>
<rect x="9.09" y="115.91" width="2.93" height="12.88" fill="#7f95d5"/>
<rect x="12.02" y="115.91" width="2.93" height="12.88" fill="#f8f5f8"/>
<rect x="14.95" y="115.91" width="2.93" height="12.88" fill="#b6c3eb"/>
<rect x="17.88" y="115.91" width="2.93" height="12.88" fill="#f6b6ba"/>
<rect x="20.81" y="115.91" width="2.93" height="12.88" fill="#ef8085"/>
<rect x="23.74" y="115.91" width="2.93" height="12.88" fill="#f6b6ba"/>
<rect x="26.67" y="115.91" width="2.93" height="12.88" fill="#b6c3eb"/>
<rect x="29.60" y="115.91" width="2.93" height="12.88" fill="#3550aa"/>
<rect x="32.53" y="115.91" width="2.93" height="12.88" fill="#4d6bc0"/>
<rect x="35.46" y="115.91" width="2.93" height="12.88" fill="#b6c3eb"/>
<rect x="38.39" y="115.91" width="2.93" height="12.88" fill="#7f95d5"/>
<rect x="41.32" y="115.91" width="2.93" height="12.88" fill="#f8f5f8"/>
<rect x="49.40" y="115.91" width="2.94" height="12.88" fill="#b6c3eb"/>
<rect x="52.34" y="115.91" width="2.94" height="12.88" fill="#f8f5f8"/>
<rect x="55.27" y="115.91" width="2.94" height="12.88" fill="#3550aa"/>
<rect x="58.21" y="115.91" width="2.94" height="12.88" fill="#f8f5f8"/>
<rect x="61.14" y="115.91" width="2.94" height="12.88" fill="#3550aa"/>
<rect x="64.08" y="115.91" width="2.94" height="12.88" fill="#b6c3eb"/>
<rect x="67.02" y="115.91" width="2.94" height="12.88" fill="#3550aa"/>
<rect x="69.95" y="115.91" width="2.94" height="12.88" fill="#b6c3eb"/>
<rect x="72.89" y="115.91" width="2.94" height="12.88" fill="#7f95d5"/>
<rect x="75.82" y="115.91" width="2.94" height="12.88" fill="#4d6bc0"/>
<rect x="78.76" y="115.91" width="2.94" height="12.88" fill="#b6c3eb"/>
<rect x="81.70" y="115.91" width="2.94" height="12.88" fill="#4d6bc0"/>
<rect x="84.63" y="115.91" width="2.94" height="12.88" fill="#ef8085"/>
<rect x="87.57" y="115.91" width="5.87" height="12.88" fill="#f6b6ba"/>
<rect x="93.44" y="115.91" width="2.94" height="12.88" fill="#b6c3eb"/>
<rect x="96.38" y="115.91" width="2.94" height="12.88" fill="#f8f5f8"/>
<rect x="99.31" y="115.91" width="2.94" height="12.88" fill="#b6c3eb"/>
<rect x="102.25" y="115.91" width="2.94" height="12.88" fill="#f8f5f8"/>
<rect x="105.18" y="115.91" width="2.94" height="12.88" fill="#7f95d5"/>
<rect x="108.12" y="115.91" width="2.94" height="12.88" fill="#f8f5f8"/>
<rect x="111.06" y="115.91" width="2.94" height="12.88" fill="#b6c3eb"/>
<rect x="113.99" y="115.91" width="5.87" height="12.88" fill="#7f95d5"/>
<rect x="119.86" y="115.91" width="2.94" height="12.88" fill="#b6c3eb"/>
<rect x="122.80" y="115.91" width="5.87" height="12.88" fill="#f8f5f8"/>
<rect x="128.67" y="115.91" width="2.94" height="12.88" fill="#4d6bc0"/>
<rect x="131.61" y="115.91" width="2.94" height="12.88" fill="#f8f5f8"/>
<rect x="134.54" y="115.91" width="2.94" height="12.88" fill="#b6c3eb"/>
<rect x="137.48" y="115.91" width="2.94" height="12.88" fill="#f8f5f8"/>
<rect x="140.42" y="115.91" width="2.94" height="12.88" fill="#ea2129"/>
<rect x="143.35" y="115.91" width="2.94" height="12.88" fill="#b6c3eb"/>
<rect x="151.70" y="115.91" width="2.91" height="12.88" fill="#4d6bc0"/>
<rect x="154.61" y="115.91" width="5.82" height="12.88" fill="#ea2129"/>
<rect x="160.44" y="115.91" width="2.91" height="12.88" fill="#ef8085"/>
<rect x="163.35" y="115.91" width="2.91" height="12.88" fill="#b6c3eb"/>
<rect x="166.26" y="115.91" width="2.91" height="12.88" fill="#f6b6ba"/>
<rect x="169.17" y="115.91" width="2.91" height="12.88" fill="#f8f5f8"/>
<rect x="172.08" y="115.91" width="2.91" height="12.88" fill="#ea2129"/>
<rect x="175.00" y="115.91" width="2.91" height="12.88" fill="#f6b6ba"/>
<rect x="177.91" y="115.91" width="2.91" height="12.88" fill="#f8f5f8"/>
<rect x="180.82" y="115.91" width="5.82" height="12.88" fill="#ea2129"/>
<rect x="186.64" y="115.91" width="2.91" height="12.88" fill="#f6b6ba"/>
<rect x="189.56" y="115.91" width="2.91" height="12.88" fill="#f8f5f8"/>
<rect x="192.47" y="115.91" width="2.91" height="12.88" fill="#ea2129"/>
<rect x="195.38" y="115.91" width="2.91" height="12.88" fill="#7f95d5"/>
<rect x="198.29" y="115.91" width="2.91" height="12.88" fill="#f6b6ba"/>
<rect x="201.20" y="115.91" width="2.91" height="12.88" fill="#ea2129"/>
<rect x="204.12" y="115.91" width="2.91" height="12.88" fill="#f8f5f8"/>
<rect x="207.03" y="115.91" width="2.91" height="12.88" fill="#f6b6ba"/>
<rect x="209.94" y="115.91" width="2.91" height="12.88" fill="#ea2129"/>
<rect x="212.85" y="115.91" width="2.91" height="12.88" fill="#ef8085"/>
<rect x="215.76" y="115.91" width="2.91" height="12.88" fill="#ea2129"/>
<rect x="218.68" y="115.91" width="2.91" height="12.88" fill="#b6c3eb"/>
<rect x="221.59" y="115.91" width="2.91" height="12.88" fill="#ef8085"/>
<rect x="0.30" y="128.78" width="2.93" height="12.88" fill="#f6b6ba"/>
<rect x="3.23" y="128.78" width="2.93" height="12.88" fill="#b6c3eb"/>
<rect x="6.16" y="128.78" width="2.93" height="12.88" fill="#4d6bc0"/>
<rect x="9.09" y="128.78" width="2.93" height="12.88" fill="#3550aa"/>
<rect x="12.02" y="128.78" width="5.86" height="12.88" fill="#f8f5f8"/>
<rect x="17.88" y="128.78" width="2.93" height="12.88" fill="#ef8085"/>
<rect x="20.81" y="128.78" width="2.93" height="12.88" fill="#3550aa"/>
<rect x="23.74" y="128.78" width="2.93" height="12.88" fill="#b6c3eb"/>
<rect x="26.67" y="128.78" width="5.86" height="12.88" fill="#4d6bc0"/>
<rect x="32.53" y="128.78" width="2.93" height="12.88" fill="#f8f5f8"/>
<rect x="35.46" y="128.78" width="2.93" height="12.88" fill="#4d6bc0"/>
<rect x="38.39" y="128.78" width="5.86" height="12.88" fill="#f8f5f8"/>
<rect x="49.40" y="128.78" width="2.94" height="12.88" fill="#7f95d5"/>
<rect x="52.34" y="128.78" width="2.94" height="12.88" fill="#b6c3eb"/>
<rect x="55.27" y="128.78" width="2.94" height="12.88" fill="#4d6bc0"/>
<rect x="58.21" y="128.78" width="5.87" height="12.88" fill="#f8f5f8"/>
<rect x="64.08" y="128.78" width="2.94" height="12.88" fill="#b6c3eb"/>
<rect x="67.02" y="128.78" width="2.94" height="12.88" fill="#f8f5f8"/>
<rect x="69.95" y="128.78" width="2.94" height="12.88" fill="#b6c3eb"/>
<rect x="72.89" y="128.78" width="5.87" height="12.88" fill="#4d6bc0"/>
<rect x="78.76" y="128.78" width="2.94" height="12.88" fill="#b6c3eb"/>
<rect x="81.70" y="128.78" width="2.94" height="12.88" fill="#ee4c51"/>
<rect x="84.63" y="128.78" width="2.94" height="12.88" fill="#b6c3eb"/>
<rect x="87.57" y="128.78" width="5.87" height="12.88" fill="#ef8085"/>
<rect x="93.44" y="128.78" width="2.94" height="12.88" fill="#f8f5f8"/>
<rect x="96.38" y="128.78" width="2.94" height="12.88" fill="#4d6bc0"/>
<rect x="99.31" y="128.78" width="2.94" height="12.88" fill="#f8f5f8"/>
<rect x="102.25" y="128.78" width="2.94" height="12.88" fill="#4d6bc0"/>
<rect x="105.18" y="128.78" width="5.87" height="12.88" fill="#f8f5f8"/>
<rect x="111.06" y="128.78" width="2.94" height="12.88" fill="#f6b6ba"/>
<rect x="113.99" y="128.78" width="2.94" height="12.88" fill="#4d6bc0"/>
<rect x="116.93" y="128.78" width="2.94" height="12.88" fill="#b6c3eb"/>
<rect x="119.86" y="128.78" width="2.94" height="12.88" fill="#f6b6ba"/>
<rect x="122.80" y="128.78" width="5.87" height="12.88" fill="#b6c3eb"/>
<rect x="128.67" y="128.78" width="2.94" height="12.88" fill="#f6b6ba"/>
<rect x="131.61" y="128.78" width="2.94" height="12.88" fill="#f8f5f8"/>
<rect x="134.54" y="128.78" width="2.94" height="12.88" fill="#ea2129"/>
<rect x="137.48" y="128.78" width="2.94" height="12.88" fill="#3550aa"/>
<rect x="140.42" y="128.78" width="2.94" height="12.88" fill="#f8f5f8"/>
<rect x="143.35" y="128.78" width="2.94" height="12.88" fill="#ea2129"/>
<rect x="151.70" y="128.78" width="5.82" height="12.88" fill="#f8f5f8"/>
<rect x="157.52" y="128.78" width="2.91" height="12.88" fill="#f6b6ba"/>
<rect x="160.44" y="128.78" width="2.91" height="12.88" fill="#4d6bc0"/>
<rect x="163.35" y="128.78" width="2.91" height="12.88" fill="#b6c3eb"/>
<rect x="166.26" y="128.78" width="2.91" height="12.88" fill="#ea2129"/>
<rect x="169.17" y="128.78" width="2.91" height="12.88" fill="#f8f5f8"/>
<rect x="172.08" y="128.78" width="8.74" height="12.88" fill="#ea2129"/>
<rect x="180.82" y="128.78" width="2.91" height="12.88" fill="#ef8085"/>
<rect x="183.73" y="128.78" width="2.91" height="12.88" fill="#f6b6ba"/>
<rect x="186.64" y="128.78" width="2.91" height="12.88" fill="#ee4c51"/>
<rect x="189.56" y="128.78" width="2.91" height="12.88" fill="#b6c3eb"/>
<rect x="192.47" y="128.78" width="2.91" height="12.88" fill="#ea2129"/>
<rect x="195.38" y="128.78" width="2.91" height="12.88" fill="#f6b6ba"/>
<rect x="198.29" y="128.78" width="2.91" height="12.88" fill="#f8f5f8"/>
<rect x="201.20" y="128.78" width="5.82" height="12.88" fill="#ea2129"/>
<rect x="207.03" y="128.78" width="2.91" height="12.88" fill="#f6b6ba"/>
<rect x="209.94" y="128.78" width="8.74" height="12.88" fill="#ea2129"/>
<rect x="218.68" y="128.78" width="2.91" height="12.88" fill="#ef8085"/>
<rect x="221.59" y="128.78" width="2.91" height="12.88" fill="#f8f5f8"/>
<rect x="0.30" y="141.66" width="2.93" height="12.88" fill="#f6b6ba"/>
<rect x="3.23" y="141.66" width="2.93" height="12.88" fill="#ea2129"/>
<rect x="6.16" y="141.66" width="2.93" height="12.88" fill="#ef8085"/>
<rect x="9.09" y="141.66" width="2.93" height="12.88" fill="#f8f5f8"/>
<rect x="12.02" y="141.66" width="2.93" height="12.88" fill="#f6b6ba"/>
<rect x="14.95" y="141.66" width="2.93" height="12.88" fill="#f8f5f8"/>
<rect x="17.88" y="141.66" width="5.86" height="12.88" fill="#f6b6ba"/>
<rect x="23.74" y="141.66" width="2.93" height="12.88" fill="#f8f5f8"/>
<rect x="26.67" y="141.66" width="2.93" height="12.88" fill="#f6b6ba"/>
<rect x="29.60" y="141.66" width="2.93" height="12.88" fill="#ea2129"/>
<rect x="32.53" y="141.66" width="2.93" height="12.88" fill="#f6b6ba"/>
<rect x="35.46" y="141.66" width="2.93" height="12.88" fill="#ef8085"/>
<rect x="38.39" y="141.66" width="2.93" height="12.88" fill="#f6b6ba"/>
<rect x="41.32" y="141.66" width="2.93" height="12.88" fill="#f8f5f8"/>
<rect x="49.40" y="141.66" width="5.87" height="12.88" fill="#ef8085"/>
<rect x="55.27" y="141.66" width="2.94" height="12.88" fill="#f8f5f8"/>
<rect x="58.21" y="141.66" width="2.94" height="12.88" fill="#ea2129"/>
<rect x="61.14" y="141.66" width="2.94" height="12.88" fill="#ef8085"/>
<rect x="64.08" y="141.66" width="2.94" height="12.88" fill="#f8f5f8"/>
<rect x="67.02" y="141.66" width="2.94" height="12.88" fill="#f6b6ba"/>
<rect x="69.95" y="141.66" width="2.94" height="12.88" fill="#ee4c51"/>
<rect x="72.89" y="141.66" width="2.94" height="12.88" fill="#ef8085"/>
<rect x="75.82" y="141.66" width="2.94" height="12.88" fill="#f8f5f8"/>
<rect x="78.76" y="141.66" width="2.94" height="12.88" fill="#ef8085"/>
<rect x="81.70" y="141.66" width="2.94" height="12.88" fill="#f8f5f8"/>
<rect x="84.63" y="141.66" width="2.94" height="12.88" fill="#4d6bc0"/>
<rect x="87.57" y="141.66" width="2.94" height="12.88" fill="#f8f5f8"/>
<rect x="90.50" y="141.66" width="2.94" height="12.88" fill="#ee4c51"/>
<rect x="93.44" y="141.66" width="2.94" height="12.88" fill="#ef8085"/>
<rect x="96.38" y="141.66" width="2.94" height="12.88" fill="#f8f5f8"/>
<rect x="99.31" y="141.66" width="2.94" height="12.88" fill="#ea2129"/>
<rect x="102.25" y="141.66" width="5.87" height="12.88" fill="#f8f5f8"/>
<rect x="108.12" y="141.66" width="2.94" height="12.88" fill="#ef8085"/>
<rect x="111.06" y="141.66" width="2.94" height="12.88" fill="#ee4c51"/>
<rect x="113.99" y="141.66" width="2.94" height="12.88" fill="#ef8085"/>
<rect x="116.93" y="141.66" width="5.87" height="12.88" fill="#f8f5f8"/>
<rect x="122.80" y="141.66" width="2.94" height="12.88" fill="#b6c3eb"/>
<rect x="125.74" y="141.66" width="2.94" height="12.88" fill="#f6b6ba"/>
<rect x="128.67" y="141.66" width="2.94" height="12.88" fill="#ee4c51"/>
<rect x="131.61" y="141.66" width="2.94" height="12.88" fill="#f8f5f8"/>
<rect x="134.54" y="141.66" width="2.94" height="12.88" fill="#b6c3eb"/>
<rect x="137.48" y="141.66" width="5.87" height="12.88" fill="#f8f5f8"/>
<rect x="143.35" y="141.66" width="2.94" height="12.88" fill="#ee4c51"/>
<rect x="151.70" y="141.66" width="2.91" height="12.88" fill="#4d6bc0"/>
<rect x="154.61" y="141.66" width="2.91" height="12.88" fill="#f8f5f8"/>
<rect x="157.52" y="141.66" width="2.91" height="12.88" fill="#4d6bc0"/>
<rect x="160.44" y="141.66" width="2.91" height="12.88" fill="#3550aa"/>
<rect x="163.35" y="141.66" width="2.91" height="12.88" fill="#f8f5f8"/>
<rect x="166.26" y="141.66" width="2.91" height="12.88" fill="#b6c3eb"/>
<rect x="169.17" y="141.66" width="2.91" height="12.88" fill="#f8f5f8"/>
<rect x="172.08" y="141.66" width="2.91" height="12.88" fill="#4d6bc0"/>
<rect x="175.00" y="141.66" width="2.91" height="12.88" fill="#3550aa"/>
<rect x="177.91" y="141.66" width="2.91" height="12.88" fill="#f8f5f8"/>
<rect x="180.82" y="141.66" width="2.91" height="12.88" fill="#b6c3eb"/>
<rect x="183.73" y="141.66" width="11.65" height="12.88" fill="#4d6bc0"/>
<rect x="195.38" y="141.66" width="2.91" height="12.88" fill="#b6c3eb"/>
<rect x="198.29" y="141.66" width="2.91" height="12.88" fill="#f8f5f8"/>
<rect x="201.20" y="141.66" width="5.82" height="12.88" fill="#4d6bc0"/>
<rect x="207.03" y="141.66" width="2.91" height="12.88" fill="#ee4c51"/>
<rect x="209.94" y="141.66" width="2.91" height="12.88" fill="#4d6bc0"/>
<rect x="212.85" y="141.66" width="2.91" height="12.88" fill="#3550aa"/>
<rect x="215.76" y="141.66" width="2.91" height="12.88" fill="#f8f5f8"/>
<rect x="218.68" y="141.66" width="2.91" height="12.88" fill="#4d6bc0"/>
<rect x="221.59" y="141.66" width="2.91" height="12.88" fill="#b6c3eb"/>
<rect x="0.30" y="154.54" width="2.93" height="12.88" fill="#f8f5f8"/>
<rect x="3.23" y="154.54" width="2.93" height="12.88" fill="#ea2129"/>
<rect x="6.16" y="154.54" width="5.86" height="12.88" fill="#ef8085"/>
<rect x="12.02" y="154.54" width="2.93" height="12.88" fill="#f6b6ba"/>
<rect x="14.95" y="154.54" width="2.93" height="12.88" fill="#7f95d5"/>
<rect x="17.88" y="154.54" width="2.93" height="12.88" fill="#ef8085"/>
<rect x="20.81" y="154.54" width="2.93" height="12.88" fill="#f6b6ba"/>
<rect x="23.74" y="154.54" width="2.93" height="12.88" fill="#ef8085"/>
<rect x="26.67" y="154.54" width="2.93" height="12.88" fill="#f8f5f8"/>
<rect x="29.60" y="154.54" width="5.86" height="12.88" fill="#ea2129"/>
<rect x="35.46" y="154.54" width="8.79" height="12.88" fill="#f8f5f8"/>
<rect x="49.40" y="154.54" width="5.87" height="12.88" fill="#ef8085"/>
<rect x="55.27" y="154.54" width="2.94" height="12.88" fill="#f8f5f8"/>
<rect x="58.21" y="154.54" width="2.94" height="12.88" fill="#f6b6ba"/>
<rect x="61.14" y="154.54" width="2.94" height="12.88" fill="#f8f5f8"/>
<rect x="64.08" y="154.54" width="2.94" height="12.88" fill="#ef8085"/>
<rect x="67.02" y="154.54" width="2.94" height="12.88" fill="#f6b6ba"/>
<rect x="69.95" y="154.54" width="2.94" height="12.88" fill="#f8f5f8"/>
<rect x="72.89" y="154.54" width="2.94" height="12.88" fill="#ea2129"/>
<rect x="75.82" y="154.54" width="2.94" height="12.88" fill="#3550aa"/>
<rect x="78.76" y="154.54" width="2.94" height="12.88" fill="#f6b6ba"/>
<rect x="81.70" y="154.54" width="2.94" height="12.88" fill="#3550aa"/>
<rect x="84.63" y="154.54" width="2.94" height="12.88" fill="#4d6bc0"/>
<rect x="87.57" y="154.54" width="5.87" height="12.88" fill="#f8f5f8"/>
<rect x="93.44" y="154.54" width="2.94" height="12.88" fill="#ef8085"/>
<rect x="96.38" y="154.54" width="2.94" height="12.88" fill="#f6b6ba"/>
<rect x="99.31" y="154.54" width="2.94" height="12.88" fill="#ef8085"/>
<rect x="102.25" y="154.54" width="2.94" height="12.88" fill="#f8f5f8"/>
<rect x="105.18" y="154.54" width="5.87" height="12.88" fill="#ea2129"/>
<rect x="111.06" y="154.54" width="2.94" height="12.88" fill="#ef8085"/>
<rect x="113.99" y="154.54" width="2.94" height="12.88" fill="#f6b6ba"/>
<rect x="116.93" y="154.54" width="2.94" height="12.88" fill="#ef8085"/>
<rect x="119.86" y="154.54" width="2.94" height="12.88" fill="#f8f5f8"/>
<rect x="122.80" y="154.54" width="2.94" height="12.88" fill="#ee4c51"/>
<rect x="125.74" y="154.54" width="2.94" height="12.88" fill="#f8f5f8"/>
<rect x="128.67" y="154.54" width="2.94" height="12.88" fill="#ea2129"/>
<rect x="131.61" y="154.54" width="2.94" height="12.88" fill="#f6b6ba"/>
<rect x="134.54" y="154.54" width="2.94" height="12.88" fill="#f8f5f8"/>
<rect x="137.48" y="154.54" width="2.94" height="12.88" fill="#f6b6ba"/>
<rect x="140.42" y="154.54" width="2.94" height="12.88" fill="#f8f5f8"/>
<rect x="143.35" y="154.54" width="2.94" height="12.88" fill="#ee4c51"/>
<rect x="151.70" y="154.54" width="2.91" height="12.88" fill="#4d6bc0"/>
<rect x="154.61" y="154.54" width="2.91" height="12.88" fill="#b6c3eb"/>
<rect x="157.52" y="154.54" width="2.91" height="12.88" fill="#3550aa"/>
<rect x="160.44" y="154.54" width="2.91" height="12.88" fill="#4d6bc0"/>
<rect x="163.35" y="154.54" width="2.91" height="12.88" fill="#b6c3eb"/>
<rect x="166.26" y="154.54" width="2.91" height="12.88" fill="#f8f5f8"/>
<rect x="169.17" y="154.54" width="2.91" height="12.88" fill="#b6c3eb"/>
<rect x="172.08" y="154.54" width="2.91" height="12.88" fill="#f8f5f8"/>
<rect x="175.00" y="154.54" width="2.91" height="12.88" fill="#4d6bc0"/>
<rect x="177.91" y="154.54" width="2.91" height="12.88" fill="#b6c3eb"/>
<rect x="180.82" y="154.54" width="2.91" height="12.88" fill="#3550aa"/>
<rect x="183.73" y="154.54" width="2.91" height="12.88" fill="#4d6bc0"/>
<rect x="186.64" y="154.54" width="5.82" height="12.88" fill="#f8f5f8"/>
<rect x="192.47" y="154.54" width="2.91" height="12.88" fill="#4d6bc0"/>
<rect x="195.38" y="154.54" width="2.91" height="12.88" fill="#b6c3eb"/>
<rect x="198.29" y="154.54" width="2.91" height="12.88" fill="#f6b6ba"/>
<rect x="201.20" y="154.54" width="2.91" height="12.88" fill="#4d6bc0"/>
<rect x="204.12" y="154.54" width="5.82" height="12.88" fill="#b6c3eb"/>
<rect x="209.94" y="154.54" width="5.82" height="12.88" fill="#f8f5f8"/>
<rect x="215.76" y="154.54" width="5.82" height="12.88" fill="#4d6bc0"/>
<rect x="221.59" y="154.54" width="2.91" height="12.88" fill="#b6c3eb"/>
<rect x="0.30" y="167.41" width="2.93" height="12.88" fill="#f6b6ba"/>
<rect x="3.23" y="167.41" width="2.93" height="12.88" fill="#ea2129"/>
<rect x="6.16" y="167.41" width="2.93" height="12.88" fill="#f8f5f8"/>
<rect x="9.09" y="167.41" width="2.93" height="12.88" fill="#f6b6ba"/>
<rect x="12.02" y="167.41" width="2.93" height="12.88" fill="#ef8085"/>
<rect x="14.95" y="167.41" width="2.93" height="12.88" fill="#b6c3eb"/>
<rect x="17.88" y="167.41" width="2.93" height="12.88" fill="#f6b6ba"/>
<rect x="20.81" y="167.41" width="2.93" height="12.88" fill="#b6c3eb"/>
<rect x="23.74" y="167.41" width="2.93" height="12.88" fill="#f6b6ba"/>
<rect x="26.67" y="167.41" width="2.93" height="12.88" fill="#ef8085"/>
<rect x="29.60" y="167.41" width="2.93" height="12.88" fill="#ea2129"/>
<rect x="32.53" y="167.41" width="2.93" height="12.88" fill="#f8f5f8"/>
<rect x="35.46" y="167.41" width="2.93" height="12.88" fill="#f6b6ba"/>
<rect x="38.39" y="167.41" width="2.93" height="12.88" fill="#7f95d5"/>
<rect x="41.32" y="167.41" width="2.93" height="12.88" fill="#f8f5f8"/>
<rect x="49.40" y="167.41" width="2.94" height="12.88" fill="#f8f5f8"/>
<rect x="52.34" y="167.41" width="2.94" height="12.88" fill="#f6b6ba"/>
<rect x="55.27" y="167.41" width="2.94" height="12.88" fill="#ea2129"/>
<rect x="58.21" y="167.41" width="2.94" height="12.88" fill="#f8f5f8"/>
<rect x="61.14" y="167.41" width="2.94" height="12.88" fill="#f6b6ba"/>
<rect x="64.08" y="167.41" width="2.94" height="12.88" fill="#ef8085"/>
<rect x="67.02" y="167.41" width="2.94" height="12.88" fill="#f8f5f8"/>
<rect x="69.95" y="167.41" width="2.94" height="12.88" fill="#f6b6ba"/>
<rect x="72.89" y="167.41" width="2.94" height="12.88" fill="#ef8085"/>
<rect x="75.82" y="167.41" width="2.94" height="12.88" fill="#ea2129"/>
<rect x="78.76" y="167.41" width="2.94" height="12.88" fill="#f8f5f8"/>
<rect x="81.70" y="167.41" width="2.94" height="12.88" fill="#f6b6ba"/>
<rect x="84.63" y="167.41" width="2.94" height="12.88" fill="#3550aa"/>
<rect x="87.57" y="167.41" width="2.94" height="12.88" fill="#b6c3eb"/>
<rect x="90.50" y="167.41" width="2.94" height="12.88" fill="#f8f5f8"/>
<rect x="93.44" y="167.41" width="2.94" height="12.88" fill="#7f95d5"/>
<rect x="96.38" y="167.41" width="2.94" height="12.88" fill="#ef8085"/>
<rect x="99.31" y="167.41" width="2.94" height="12.88" fill="#f8f5f8"/>
<rect x="102.25" y="167.41" width="2.94" height="12.88" fill="#ee4c51"/>
<rect x="105.18" y="167.41" width="2.94" height="12.88" fill="#b6c3eb"/>
<rect x="108.12" y="167.41" width="2.94" height="12.88" fill="#f8f5f8"/>
<rect x="111.06" y="167.41" width="2.94" height="12.88" fill="#ea2129"/>
<rect x="113.99" y="167.41" width="2.94" height="12.88" fill="#f8f5f8"/>
<rect x="116.93" y="167.41" width="2.94" height="12.88" fill="#ea2129"/>
<rect x="119.86" y="167.41" width="5.87" height="12.88" fill="#f6b6ba"/>
<rect x="125.74" y="167.41" width="2.94" height="12.88" fill="#f8f5f8"/>
<rect x="128.67" y="167.41" width="2.94" height="12.88" fill="#f6b6ba"/>
<rect x="131.61" y="167.41" width="2.94" height="12.88" fill="#f8f5f8"/>
<rect x="134.54" y="167.41" width="2.94" height="12.88" fill="#3550aa"/>
<rect x="137.48" y="167.41" width="2.94" height="12.88" fill="#f8f5f8"/>
<rect x="140.42" y="167.41" width="2.94" height="12.88" fill="#f6b6ba"/>
<rect x="143.35" y="167.41" width="2.94" height="12.88" fill="#ea2129"/>
<rect x="151.70" y="167.41" width="2.91" height="12.88" fill="#4d6bc0"/>
<rect x="154.61" y="167.41" width="2.91" height="12.88" fill="#f8f5f8"/>
<rect x="157.52" y="167.41" width="2.91" height="12.88" fill="#3550aa"/>
<rect x="160.44" y="167.41" width="2.91" height="12.88" fill="#4d6bc0"/>
<rect x="163.35" y="167.41" width="2.91" height="12.88" fill="#f6b6ba"/>
<rect x="166.26" y="167.41" width="5.82" height="12.88" fill="#b6c3eb"/>
<rect x="172.08" y="167.41" width="2.91" height="12.88" fill="#4d6bc0"/>
<rect x="175.00" y="167.41" width="2.91" height="12.88" fill="#f6b6ba"/>
<rect x="177.91" y="167.41" width="2.91" height="12.88" fill="#b6c3eb"/>
<rect x="180.82" y="167.41" width="2.91" height="12.88" fill="#3550aa"/>
<rect x="183.73" y="167.41" width="2.91" height="12.88" fill="#7f95d5"/>
<rect x="186.64" y="167.41" width="2.91" height="12.88" fill="#b6c3eb"/>
<rect x="189.56" y="167.41" width="2.91" height="12.88" fill="#4d6bc0"/>
<rect x="192.47" y="167.41" width="2.91" height="12.88" fill="#7f95d5"/>
<rect x="195.38" y="167.41" width="2.91" height="12.88" fill="#3550aa"/>
<rect x="198.29" y="167.41" width="2.91" height="12.88" fill="#7f95d5"/>
<rect x="201.20" y="167.41" width="2.91" height="12.88" fill="#f8f5f8"/>
<rect x="204.12" y="167.41" width="2.91" height="12.88" fill="#4d6bc0"/>
<rect x="207.03" y="167.41" width="2.91" height="12.88" fill="#f6b6ba"/>
<rect x="209.94" y="167.41" width="2.91" height="12.88" fill="#b6c3eb"/>
<rect x="212.85" y="167.41" width="2.91" height="12.88" fill="#4d6bc0"/>
<rect x="215.76" y="167.41" width="2.91" height="12.88" fill="#7f95d5"/>
<rect x="218.68" y="167.41" width="5.82" height="12.88" fill="#4d6bc0"/>
<rect x="0.30" y="180.29" width="2.93" height="12.88" fill="#f6b6ba"/>
<rect x="3.23" y="180.29" width="2.93" height="12.88" fill="#ea2129"/>
<rect x="6.16" y="180.29" width="2.93" height="12.88" fill="#f8f5f8"/>
<rect x="9.09" y="180.29" width="2.93" height="12.88" fill="#7f95d5"/>
<rect x="12.02" y="180.29" width="2.93" height="12.88" fill="#f8f5f8"/>
<rect x="14.95" y="180.29" width="2.93" height="12.88" fill="#ea2129"/>
<rect x="17.88" y="180.29" width="5.86" height="12.88" fill="#f8f5f8"/>
<rect x="23.74" y="180.29" width="2.93" height="12.88" fill="#b6c3eb"/>
<rect x="26.67" y="180.29" width="5.86" height="12.88" fill="#f8f5f8"/>
<rect x="32.53" y="180.29" width="2.93" height="12.88" fill="#ea2129"/>
<rect x="35.46" y="180.29" width="2.93" height="12.88" fill="#4d6bc0"/>
<rect x="38.39" y="180.29" width="2.93" height="12.88" fill="#f8f5f8"/>
<rect x="41.32" y="180.29" width="2.93" height="12.88" fill="#ea2129"/>
<rect x="49.40" y="180.29" width="2.94" height="12.88" fill="#f8f5f8"/>
<rect x="52.34" y="180.29" width="2.94" height="12.88" fill="#b6c3eb"/>
<rect x="55.27" y="180.29" width="2.94" height="12.88" fill="#ef8085"/>
<rect x="58.21" y="180.29" width="2.94" height="12.88" fill="#f8f5f8"/>
<rect x="61.14" y="180.29" width="8.81" height="12.88" fill="#ea2129"/>
<rect x="69.95" y="180.29" width="2.94" height="12.88" fill="#f8f5f8"/>
<rect x="72.89" y="180.29" width="2.94" height="12.88" fill="#f6b6ba"/>
<rect x="75.82" y="180.29" width="2.94" height="12.88" fill="#4d6bc0"/>
<rect x="78.76" y="180.29" width="2.94" height="12.88" fill="#f6b6ba"/>
<rect x="81.70" y="180.29" width="2.94" height="12.88" fill="#ef8085"/>
<rect x="84.63" y="180.29" width="2.94" height="12.88" fill="#b6c3eb"/>
<rect x="87.57" y="180.29" width="2.94" height="12.88" fill="#f8f5f8"/>
<rect x="90.50" y="180.29" width="2.94" height="12.88" fill="#b6c3eb"/>
<rect x="93.44" y="180.29" width="2.94" height="12.88" fill="#f8f5f8"/>
<rect x="96.38" y="180.29" width="2.94" height="12.88" fill="#ea2129"/>
<rect x="99.31" y="180.29" width="2.94" height="12.88" fill="#f8f5f8"/>
<rect x="102.25" y="180.29" width="2.94" height="12.88" fill="#f6b6ba"/>
<rect x="105.18" y="180.29" width="5.87" height="12.88" fill="#ea2129"/>
<rect x="111.06" y="180.29" width="5.87" height="12.88" fill="#f8f5f8"/>
<rect x="116.93" y="180.29" width="2.94" height="12.88" fill="#ea2129"/>
<rect x="119.86" y="180.29" width="2.94" height="12.88" fill="#f6b6ba"/>
<rect x="122.80" y="180.29" width="2.94" height="12.88" fill="#ef8085"/>
<rect x="125.74" y="180.29" width="2.94" height="12.88" fill="#f6b6ba"/>
<rect x="128.67" y="180.29" width="5.87" height="12.88" fill="#ea2129"/>
<rect x="134.54" y="180.29" width="5.87" height="12.88" fill="#7f95d5"/>
<rect x="140.42" y="180.29" width="2.94" height="12.88" fill="#f8f5f8"/>
<rect x="143.35" y="180.29" width="2.94" height="12.88" fill="#ea2129"/>
<rect x="151.70" y="180.29" width="2.91" height="12.88" fill="#4d6bc0"/>
<rect x="154.61" y="180.29" width="2.91" height="12.88" fill="#7f95d5"/>
<rect x="157.52" y="180.29" width="2.91" height="12.88" fill="#4d6bc0"/>
<rect x="160.44" y="180.29" width="2.91" height="12.88" fill="#3550aa"/>
<rect x="163.35" y="180.29" width="2.91" height="12.88" fill="#f8f5f8"/>
<rect x="166.26" y="180.29" width="2.91" height="12.88" fill="#f6b6ba"/>
<rect x="169.17" y="180.29" width="2.91" height="12.88" fill="#b6c3eb"/>
<rect x="172.08" y="180.29" width="2.91" height="12.88" fill="#4d6bc0"/>
<rect x="175.00" y="180.29" width="2.91" height="12.88" fill="#ef8085"/>
<rect x="177.91" y="180.29" width="2.91" height="12.88" fill="#f8f5f8"/>
<rect x="180.82" y="180.29" width="2.91" height="12.88" fill="#b6c3eb"/>
<rect x="183.73" y="180.29" width="2.91" height="12.88" fill="#4d6bc0"/>
<rect x="186.64" y="180.29" width="2.91" height="12.88" fill="#3550aa"/>
<rect x="189.56" y="180.29" width="2.91" height="12.88" fill="#7f95d5"/>
<rect x="192.47" y="180.29" width="2.91" height="12.88" fill="#4d6bc0"/>
<rect x="195.38" y="180.29" width="2.91" height="12.88" fill="#ef8085"/>
<rect x="198.29" y="180.29" width="2.91" height="12.88" fill="#b6c3eb"/>
<rect x="201.20" y="180.29" width="2.91" height="12.88" fill="#4d6bc0"/>
<rect x="204.12" y="180.29" width="5.82" height="12.88" fill="#f8f5f8"/>
<rect x="209.94" y="180.29" width="2.91" height="12.88" fill="#4d6bc0"/>
<rect x="212.85" y="180.29" width="2.91" height="12.88" fill="#f8f5f8"/>
<rect x="215.76" y="180.29" width="2.91" height="12.88" fill="#4d6bc0"/>
<rect x="218.68" y="180.29" width="2.91" height="12.88" fill="#b6c3eb"/>
<rect x="221.59" y="180.29" width="2.91" height="12.88" fill="#4d6bc0"/>
<rect x="0.30" y="193.16" width="2.93" height="12.88" fill="#f6b6ba"/>
<rect x="3.23" y="193.16" width="2.93" height="12.88" fill="#7f95d5"/>
<rect x="6.16" y="193.16" width="2.93" height="12.88" fill="#f6b6ba"/>
<rect x="9.09" y="193.16" width="2.93" height="12.88" fill="#ef8085"/>
<rect x="12.02" y="193.16" width="2.93" height="12.88" fill="#f8f5f8"/>
<rect x="14.95" y="193.16" width="2.93" height="12.88" fill="#ef8085"/>
<rect x="17.88" y="193.16" width="5.86" height="12.88" fill="#f6b6ba"/>
<rect x="23.74" y="193.16" width="2.93" height="12.88" fill="#f8f5f8"/>
<rect x="26.67" y="193.16" width="5.86" height="12.88" fill="#f6b6ba"/>
<rect x="32.53" y="193.16" width="2.93" height="12.88" fill="#f8f5f8"/>
<rect x="35.46" y="193.16" width="5.86" height="12.88" fill="#f6b6ba"/>
<rect x="41.32" y="193.16" width="2.93" height="12.88" fill="#ef8085"/>
<rect x="49.40" y="193.16" width="2.94" height="12.88" fill="#f8f5f8"/>
<rect x="52.34" y="193.16" width="2.94" height="12.88" fill="#ef8085"/>
<rect x="55.27" y="193.16" width="2.94" height="12.88" fill="#ee4c51"/>
<rect x="58.21" y="193.16" width="2.94" height="12.88" fill="#f8f5f8"/>
<rect x="61.14" y="193.16" width="2.94" height="12.88" fill="#f6b6ba"/>
<rect x="64.08" y="193.16" width="5.87" height="12.88" fill="#ef8085"/>
<rect x="69.95" y="193.16" width="2.94" height="12.88" fill="#f8f5f8"/>
<rect x="72.89" y="193.16" width="2.94" height="12.88" fill="#f6b6ba"/>
<rect x="75.82" y="193.16" width="2.94" height="12.88" fill="#ea2129"/>
<rect x="78.76" y="193.16" width="2.94" height="12.88" fill="#f6b6ba"/>
<rect x="81.70" y="193.16" width="2.94" height="12.88" fill="#f8f5f8"/>
<rect x="84.63" y="193.16" width="2.94" height="12.88" fill="#ef8085"/>
<rect x="87.57" y="193.16" width="2.94" height="12.88" fill="#4d6bc0"/>
<rect x="90.50" y="193.16" width="2.94" height="12.88" fill="#f8f5f8"/>
<rect x="93.44" y="193.16" width="2.94" height="12.88" fill="#f6b6ba"/>
<rect x="96.38" y="193.16" width="2.94" height="12.88" fill="#ea2129"/>
<rect x="99.31" y="193.16" width="2.94" height="12.88" fill="#ef8085"/>
<rect x="102.25" y="193.16" width="2.94" height="12.88" fill="#f8f5f8"/>
<rect x="105.18" y="193.16" width="2.94" height="12.88" fill="#f6b6ba"/>
<rect x="108.12" y="193.16" width="2.94" height="12.88" fill="#f8f5f8"/>
<rect x="111.06" y="193.16" width="2.94" height="12.88" fill="#f6b6ba"/>
<rect x="113.99" y="193.16" width="2.94" height="12.88" fill="#ef8085"/>
<rect x="116.93" y="193.16" width="2.94" height="12.88" fill="#ea2129"/>
<rect x="119.86" y="193.16" width="2.94" height="12.88" fill="#f8f5f8"/>
<rect x="122.80" y="193.16" width="2.94" height="12.88" fill="#ef8085"/>
<rect x="125.74" y="193.16" width="2.94" height="12.88" fill="#f6b6ba"/>
<rect x="128.67" y="193.16" width="2.94" height="12.88" fill="#ee4c51"/>
<rect x="131.61" y="193.16" width="2.94" height="12.88" fill="#f8f5f8"/>
<rect x="134.54" y="193.16" width="2.94" height="12.88" fill="#f6b6ba"/>
<rect x="137.48" y="193.16" width="2.94" height="12.88" fill="#f8f5f8"/>
<rect x="140.42" y="193.16" width="2.94" height="12.88" fill="#ee4c51"/>
<rect x="143.35" y="193.16" width="2.94" height="12.88" fill="#f6b6ba"/>
<rect x="151.70" y="193.16" width="2.91" height="12.88" fill="#4d6bc0"/>
<rect x="154.61" y="193.16" width="2.91" height="12.88" fill="#f8f5f8"/>
<rect x="157.52" y="193.16" width="2.91" height="12.88" fill="#3550aa"/>
<rect x="160.44" y="193.16" width="2.91" height="12.88" fill="#4d6bc0"/>
<rect x="163.35" y="193.16" width="2.91" height="12.88" fill="#b6c3eb"/>
<rect x="166.26" y="193.16" width="2.91" height="12.88" fill="#4d6bc0"/>
<rect x="169.17" y="193.16" width="2.91" height="12.88" fill="#f6b6ba"/>
<rect x="172.08" y="193.16" width="2.91" height="12.88" fill="#f8f5f8"/>
<rect x="175.00" y="193.16" width="2.91" height="12.88" fill="#ee4c51"/>
<rect x="177.91" y="193.16" width="2.91" height="12.88" fill="#f6b6ba"/>
<rect x="180.82" y="193.16" width="2.91" height="12.88" fill="#ef8085"/>
<rect x="183.73" y="193.16" width="5.82" height="12.88" fill="#4d6bc0"/>
<rect x="189.56" y="193.16" width="2.91" height="12.88" fill="#b6c3eb"/>
<rect x="192.47" y="193.16" width="2.91" height="12.88" fill="#ef8085"/>
<rect x="195.38" y="193.16" width="2.91" height="12.88" fill="#f8f5f8"/>
<rect x="198.29" y="193.16" width="2.91" height="12.88" fill="#4d6bc0"/>
<rect x="201.20" y="193.16" width="2.91" height="12.88" fill="#f8f5f8"/>
<rect x="204.12" y="193.16" width="2.91" height="12.88" fill="#b6c3eb"/>
<rect x="207.03" y="193.16" width="2.91" height="12.88" fill="#4d6bc0"/>
<rect x="209.94" y="193.16" width="2.91" height="12.88" fill="#f6b6ba"/>
<rect x="212.85" y="193.16" width="2.91" height="12.88" fill="#4d6bc0"/>
<rect x="215.76" y="193.16" width="2.91" height="12.88" fill="#7f95d5"/>
<rect x="218.68" y="193.16" width="2.91" height="12.88" fill="#f8f5f8"/>
<rect x="221.59" y="193.16" width="2.91" height="12.88" fill="#4d6bc0"/>
<rect x="0.30" y="206.04" width="2.93" height="12.88" fill="#f6b6ba"/>
<rect x="3.23" y="206.04" width="2.93" height="12.88" fill="#ea2129"/>
<rect x="6.16" y="206.04" width="5.86" height="12.88" fill="#b6c3eb"/>
<rect x="12.02" y="206.04" width="2.93" height="12.88" fill="#f6b6ba"/>
<rect x="14.95" y="206.04" width="2.93" height="12.88" fill="#ef8085"/>
<rect x="17.88" y="206.04" width="5.86" height="12.88" fill="#b6c3eb"/>
<rect x="23.74" y="206.04" width="2.93" height="12.88" fill="#f8f5f8"/>
<rect x="26.67" y="206.04" width="2.93" height="12.88" fill="#7f95d5"/>
<rect x="29.60" y="206.04" width="2.93" height="12.88" fill="#f8f5f8"/>
<rect x="32.53" y="206.04" width="2.93" height="12.88" fill="#f6b6ba"/>
<rect x="35.46" y="206.04" width="2.93" height="12.88" fill="#f8f5f8"/>
<rect x="38.39" y="206.04" width="2.93" height="12.88" fill="#f6b6ba"/>
<rect x="41.32" y="206.04" width="2.93" height="12.88" fill="#f8f5f8"/>
<rect x="49.40" y="206.04" width="2.94" height="12.88" fill="#ef8085"/>
<rect x="52.34" y="206.04" width="2.94" height="12.88" fill="#b6c3eb"/>
<rect x="55.27" y="206.04" width="2.94" height="12.88" fill="#f6b6ba"/>
<rect x="58.21" y="206.04" width="5.87" height="12.88" fill="#ea2129"/>
<rect x="64.08" y="206.04" width="2.94" height="12.88" fill="#ef8085"/>
<rect x="67.02" y="206.04" width="2.94" height="12.88" fill="#f6b6ba"/>
<rect x="69.95" y="206.04" width="2.94" height="12.88" fill="#ef8085"/>
<rect x="72.89" y="206.04" width="2.94" height="12.88" fill="#f6b6ba"/>
<rect x="75.82" y="206.04" width="2.94" height="12.88" fill="#ea2129"/>
<rect x="78.76" y="206.04" width="2.94" height="12.88" fill="#f6b6ba"/>
<rect x="81.70" y="206.04" width="2.94" height="12.88" fill="#ea2129"/>
<rect x="84.63" y="206.04" width="2.94" height="12.88" fill="#ef8085"/>
<rect x="87.57" y="206.04" width="5.87" height="12.88" fill="#b6c3eb"/>
<rect x="93.44" y="206.04" width="2.94" height="12.88" fill="#3550aa"/>
<rect x="96.38" y="206.04" width="2.94" height="12.88" fill="#f6b6ba"/>
<rect x="99.31" y="206.04" width="2.94" height="12.88" fill="#ea2129"/>
<rect x="102.25" y="206.04" width="2.94" height="12.88" fill="#f8f5f8"/>
<rect x="105.18" y="206.04" width="2.94" height="12.88" fill="#f6b6ba"/>
<rect x="108.12" y="206.04" width="2.94" height="12.88" fill="#ea2129"/>
<rect x="111.06" y="206.04" width="5.87" height="12.88" fill="#f6b6ba"/>
<rect x="116.93" y="206.04" width="2.94" height="12.88" fill="#ea2129"/>
<rect x="119.86" y="206.04" width="2.94" height="12.88" fill="#b6c3eb"/>
<rect x="122.80" y="206.04" width="2.94" height="12.88" fill="#f8f5f8"/>
<rect x="125.74" y="206.04" width="5.87" height="12.88" fill="#ea2129"/>
<rect x="131.61" y="206.04" width="2.94" height="12.88" fill="#ef8085"/>
<rect x="134.54" y="206.04" width="5.87" height="12.88" fill="#7f95d5"/>
<rect x="140.42" y="206.04" width="2.94" height="12.88" fill="#b6c3eb"/>
<rect x="143.35" y="206.04" width="2.94" height="12.88" fill="#f6b6ba"/>
<rect x="151.70" y="206.04" width="2.91" height="12.88" fill="#4d6bc0"/>
<rect x="154.61" y="206.04" width="2.91" height="12.88" fill="#ee4c51"/>
<rect x="157.52" y="206.04" width="2.91" height="12.88" fill="#4d6bc0"/>
<rect x="160.44" y="206.04" width="5.82" height="12.88" fill="#7f95d5"/>
<rect x="166.26" y="206.04" width="2.91" height="12.88" fill="#f8f5f8"/>
<rect x="169.17" y="206.04" width="2.91" height="12.88" fill="#b6c3eb"/>
<rect x="172.08" y="206.04" width="5.82" height="12.88" fill="#4d6bc0"/>
<rect x="177.91" y="206.04" width="2.91" height="12.88" fill="#ee4c51"/>
<rect x="180.82" y="206.04" width="2.91" height="12.88" fill="#f8f5f8"/>
<rect x="183.73" y="206.04" width="2.91" height="12.88" fill="#b6c3eb"/>
<rect x="186.64" y="206.04" width="2.91" height="12.88" fill="#ef8085"/>
<rect x="189.56" y="206.04" width="8.74" height="12.88" fill="#3550aa"/>
<rect x="198.29" y="206.04" width="2.91" height="12.88" fill="#f8f5f8"/>
<rect x="201.20" y="206.04" width="2.91" height="12.88" fill="#7f95d5"/>
<rect x="204.12" y="206.04" width="5.82" height="12.88" fill="#f8f5f8"/>
<rect x="209.94" y="206.04" width="2.91" height="12.88" fill="#ef8085"/>
<rect x="212.85" y="206.04" width="2.91" height="12.88" fill="#7f95d5"/>
<rect x="215.76" y="206.04" width="2.91" height="12.88" fill="#4d6bc0"/>
<rect x="218.68" y="206.04" width="2.91" height="12.88" fill="#b6c3eb"/>
<rect x="221.59" y="206.04" width="2.91" height="12.88" fill="#4d6bc0"/>
<rect x="0.30" y="218.92" width="2.93" height="12.88" fill="#ea2129"/>
<rect x="3.23" y="218.92" width="2.93" height="12.88" fill="#f6b6ba"/>
<rect x="6.16" y="218.92" width="2.93" height="12.88" fill="#b6c3eb"/>
<rect x="9.09" y="218.92" width="2.93" height="12.88" fill="#ef8085"/>
<rect x="12.02" y="218.92" width="2.93" height="12.88" fill="#f8f5f8"/>
<rect x="14.95" y="218.92" width="2.93" height="12.88" fill="#f6b6ba"/>
<rect x="17.88" y="218.92" width="2.93" height="12.88" fill="#b6c3eb"/>
<rect x="20.81" y="218.92" width="2.93" height="12.88" fill="#f8f5f8"/>
<rect x="23.74" y="218.92" width="2.93" height="12.88" fill="#f6b6ba"/>
<rect x="26.67" y="218.92" width="2.93" height="12.88" fill="#f8f5f8"/>
<rect x="29.60" y="218.92" width="2.93" height="12.88" fill="#ef8085"/>
<rect x="32.53" y="218.92" width="2.93" height="12.88" fill="#f6b6ba"/>
<rect x="35.46" y="218.92" width="5.86" height="12.88" fill="#ea2129"/>
<rect x="41.32" y="218.92" width="2.93" height="12.88" fill="#f8f5f8"/>
<rect x="49.40" y="218.92" width="2.94" height="12.88" fill="#ef8085"/>
<rect x="52.34" y="218.92" width="2.94" height="12.88" fill="#f8f5f8"/>
<rect x="55.27" y="218.92" width="2.94" height="12.88" fill="#f6b6ba"/>
<rect x="58.21" y="218.92" width="5.87" height="12.88" fill="#ea2129"/>
<rect x="64.08" y="218.92" width="2.94" height="12.88" fill="#f8f5f8"/>
<rect x="67.02" y="218.92" width="2.94" height="12.88" fill="#b6c3eb"/>
<rect x="69.95" y="218.92" width="2.94" height="12.88" fill="#4d6bc0"/>
<rect x="72.89" y="218.92" width="2.94" height="12.88" fill="#f8f5f8"/>
<rect x="75.82" y="218.92" width="2.94" height="12.88" fill="#ea2129"/>
<rect x="78.76" y="218.92" width="2.94" height="12.88" fill="#f6b6ba"/>
<rect x="81.70" y="218.92" width="5.87" height="12.88" fill="#ea2129"/>
<rect x="87.57" y="218.92" width="2.94" height="12.88" fill="#f8f5f8"/>
<rect x="90.50" y="218.92" width="2.94" height="12.88" fill="#b6c3eb"/>
<rect x="93.44" y="218.92" width="2.94" height="12.88" fill="#3550aa"/>
<rect x="96.38" y="218.92" width="2.94" height="12.88" fill="#f8f5f8"/>
<rect x="99.31" y="218.92" width="2.94" height="12.88" fill="#ea2129"/>
<rect x="102.25" y="218.92" width="2.94" height="12.88" fill="#f8f5f8"/>
<rect x="105.18" y="218.92" width="2.94" height="12.88" fill="#7f95d5"/>
<rect x="108.12" y="218.92" width="5.87" height="12.88" fill="#f6b6ba"/>
<rect x="113.99" y="218.92" width="2.94" height="12.88" fill="#f8f5f8"/>
<rect x="116.93" y="218.92" width="2.94" height="12.88" fill="#ef8085"/>
<rect x="119.86" y="218.92" width="5.87" height="12.88" fill="#f8f5f8"/>
<rect x="125.74" y="218.92" width="2.94" height="12.88" fill="#ea2129"/>
<rect x="128.67" y="218.92" width="2.94" height="12.88" fill="#b6c3eb"/>
<rect x="131.61" y="218.92" width="2.94" height="12.88" fill="#3550aa"/>
<rect x="134.54" y="218.92" width="2.94" height="12.88" fill="#f8f5f8"/>
<rect x="137.48" y="218.92" width="2.94" height="12.88" fill="#ef8085"/>
<rect x="140.42" y="218.92" width="2.94" height="12.88" fill="#4d6bc0"/>
<rect x="143.35" y="218.92" width="2.94" height="12.88" fill="#f8f5f8"/>
<rect x="151.70" y="218.92" width="2.91" height="12.88" fill="#4d6bc0"/>
<rect x="154.61" y="218.92" width="2.91" height="12.88" fill="#f6b6ba"/>
<rect x="157.52" y="218.92" width="2.91" height="12.88" fill="#4d6bc0"/>
<rect x="160.44" y="218.92" width="2.91" height="12.88" fill="#f8f5f8"/>
<rect x="163.35" y="218.92" width="2.91" height="12.88" fill="#ee4c51"/>
<rect x="166.26" y="218.92" width="2.91" height="12.88" fill="#f8f5f8"/>
<rect x="169.17" y="218.92" width="2.91" height="12.88" fill="#f6b6ba"/>
<rect x="172.08" y="218.92" width="2.91" height="12.88" fill="#f8f5f8"/>
<rect x="175.00" y="218.92" width="2.91" height="12.88" fill="#b6c3eb"/>
<rect x="177.91" y="218.92" width="2.91" height="12.88" fill="#4d6bc0"/>
<rect x="180.82" y="218.92" width="2.91" height="12.88" fill="#3550aa"/>
<rect x="183.73" y="218.92" width="2.91" height="12.88" fill="#f8f5f8"/>
<rect x="186.64" y="218.92" width="5.82" height="12.88" fill="#3550aa"/>
<rect x="192.47" y="218.92" width="2.91" height="12.88" fill="#4d6bc0"/>
<rect x="195.38" y="218.92" width="2.91" height="12.88" fill="#f8f5f8"/>
<rect x="198.29" y="218.92" width="2.91" height="12.88" fill="#f6b6ba"/>
<rect x="201.20" y="218.92" width="2.91" height="12.88" fill="#f8f5f8"/>
<rect x="204.12" y="218.92" width="2.91" height="12.88" fill="#4d6bc0"/>
<rect x="207.03" y="218.92" width="2.91" height="12.88" fill="#f8f5f8"/>
<rect x="209.94" y="218.92" width="2.91" height="12.88" fill="#b6c3eb"/>
<rect x="212.85" y="218.92" width="5.82" height="12.88" fill="#4d6bc0"/>
<rect x="218.68" y="218.92" width="2.91" height="12.88" fill="#3550aa"/>
<rect x="221.59" y="218.92" width="2.91" height="12.88" fill="#4d6bc0"/>
<rect x="0.30" y="231.79" width="2.93" height="12.88" fill="#f6b6ba"/>
<rect x="3.23" y="231.79" width="2.93" height="12.88" fill="#ea2129"/>
<rect x="6.16" y="231.79" width="2.93" height="12.88" fill="#f8f5f8"/>
<rect x="9.09" y="231.79" width="5.86" height="12.88" fill="#f6b6ba"/>
<rect x="14.95" y="231.79" width="2.93" height="12.88" fill="#f8f5f8"/>
<rect x="17.88" y="231.79" width="2.93" height="12.88" fill="#f6b6ba"/>
<rect x="20.81" y="231.79" width="2.93" height="12.88" fill="#f8f5f8"/>
<rect x="23.74" y="231.79" width="2.93" height="12.88" fill="#f6b6ba"/>
<rect x="26.67" y="231.79" width="2.93" height="12.88" fill="#f8f5f8"/>
<rect x="29.60" y="231.79" width="2.93" height="12.88" fill="#ee4c51"/>
<rect x="32.53" y="231.79" width="2.93" height="12.88" fill="#f8f5f8"/>
<rect x="35.46" y="231.79" width="2.93" height="12.88" fill="#f6b6ba"/>
<rect x="38.39" y="231.79" width="2.93" height="12.88" fill="#ef8085"/>
<rect x="41.32" y="231.79" width="2.93" height="12.88" fill="#f8f5f8"/>
<rect x="49.40" y="231.79" width="2.94" height="12.88" fill="#f8f5f8"/>
<rect x="52.34" y="231.79" width="2.94" height="12.88" fill="#ef8085"/>
<rect x="55.27" y="231.79" width="2.94" height="12.88" fill="#f6b6ba"/>
<rect x="58.21" y="231.79" width="5.87" height="12.88" fill="#ea2129"/>
<rect x="64.08" y="231.79" width="5.87" height="12.88" fill="#ef8085"/>
<rect x="69.95" y="231.79" width="2.94" height="12.88" fill="#ee4c51"/>
<rect x="72.89" y="231.79" width="2.94" height="12.88" fill="#f6b6ba"/>
<rect x="75.82" y="231.79" width="2.94" height="12.88" fill="#4d6bc0"/>
<rect x="78.76" y="231.79" width="2.94" height="12.88" fill="#f6b6ba"/>
<rect x="81.70" y="231.79" width="2.94" height="12.88" fill="#3550aa"/>
<rect x="84.63" y="231.79" width="5.87" height="12.88" fill="#f8f5f8"/>
<rect x="90.50" y="231.79" width="2.94" height="12.88" fill="#ef8085"/>
<rect x="93.44" y="231.79" width="2.94" height="12.88" fill="#f8f5f8"/>
<rect x="96.38" y="231.79" width="2.94" height="12.88" fill="#ef8085"/>
<rect x="99.31" y="231.79" width="2.94" height="12.88" fill="#ea2129"/>
<rect x="102.25" y="231.79" width="2.94" height="12.88" fill="#f8f5f8"/>
<rect x="105.18" y="231.79" width="2.94" height="12.88" fill="#f6b6ba"/>
<rect x="108.12" y="231.79" width="2.94" height="12.88" fill="#f8f5f8"/>
<rect x="111.06" y="231.79" width="2.94" height="12.88" fill="#ef8085"/>
<rect x="113.99" y="231.79" width="2.94" height="12.88" fill="#f8f5f8"/>
<rect x="116.93" y="231.79" width="2.94" height="12.88" fill="#ef8085"/>
<rect x="119.86" y="231.79" width="5.87" height="12.88" fill="#f8f5f8"/>
<rect x="125.74" y="231.79" width="2.94" height="12.88" fill="#f6b6ba"/>
<rect x="128.67" y="231.79" width="2.94" height="12.88" fill="#f8f5f8"/>
<rect x="131.61" y="231.79" width="2.94" height="12.88" fill="#ef8085"/>
<rect x="134.54" y="231.79" width="5.87" height="12.88" fill="#f8f5f8"/>
<rect x="140.42" y="231.79" width="2.94" height="12.88" fill="#ef8085"/>
<rect x="143.35" y="231.79" width="2.94" height="12.88" fill="#f6b6ba"/>
<rect x="151.70" y="231.79" width="2.91" height="12.88" fill="#4d6bc0"/>
<rect x="154.61" y="231.79" width="2.91" height="12.88" fill="#b6c3eb"/>
<rect x="157.52" y="231.79" width="5.82" height="12.88" fill="#4d6bc0"/>
<rect x="163.35" y="231.79" width="5.82" height="12.88" fill="#f6b6ba"/>
<rect x="169.17" y="231.79" width="2.91" height="12.88" fill="#f8f5f8"/>
<rect x="172.08" y="231.79" width="2.91" height="12.88" fill="#3550aa"/>
<rect x="175.00" y="231.79" width="2.91" height="12.88" fill="#b6c3eb"/>
<rect x="177.91" y="231.79" width="2.91" height="12.88" fill="#f6b6ba"/>
<rect x="180.82" y="231.79" width="2.91" height="12.88" fill="#4d6bc0"/>
<rect x="183.73" y="231.79" width="2.91" height="12.88" fill="#f6b6ba"/>
<rect x="186.64" y="231.79" width="5.82" height="12.88" fill="#4d6bc0"/>
<rect x="192.47" y="231.79" width="2.91" height="12.88" fill="#3550aa"/>
<rect x="195.38" y="231.79" width="2.91" height="12.88" fill="#f6b6ba"/>
<rect x="198.29" y="231.79" width="2.91" height="12.88" fill="#b6c3eb"/>
<rect x="201.20" y="231.79" width="2.91" height="12.88" fill="#f6b6ba"/>
<rect x="204.12" y="231.79" width="2.91" height="12.88" fill="#4d6bc0"/>
<rect x="207.03" y="231.79" width="2.91" height="12.88" fill="#b6c3eb"/>
<rect x="209.94" y="231.79" width="2.91" height="12.88" fill="#ea2129"/>
<rect x="212.85" y="231.79" width="5.82" height="12.88" fill="#4d6bc0"/>
<rect x="218.68" y="231.79" width="2.91" height="12.88" fill="#f6b6ba"/>
<rect x="221.59" y="231.79" width="2.91" height="12.88" fill="#3550aa"/>
<rect x="0.30" y="244.67" width="2.93" height="12.88" fill="#f8f5f8"/>
<rect x="3.23" y="244.67" width="2.93" height="12.88" fill="#ea2129"/>
<rect x="6.16" y="244.67" width="2.93" height="12.88" fill="#f8f5f8"/>
<rect x="9.09" y="244.67" width="2.93" height="12.88" fill="#b6c3eb"/>
<rect x="12.02" y="244.67" width="2.93" height="12.88" fill="#f8f5f8"/>
<rect x="14.95" y="244.67" width="2.93" height="12.88" fill="#ee4c51"/>
<rect x="17.88" y="244.67" width="5.86" height="12.88" fill="#b6c3eb"/>
<rect x="23.74" y="244.67" width="5.86" height="12.88" fill="#f8f5f8"/>
<rect x="29.60" y="244.67" width="2.93" height="12.88" fill="#f6b6ba"/>
<rect x="32.53" y="244.67" width="2.93" height="12.88" fill="#ea2129"/>
<rect x="35.46" y="244.67" width="2.93" height="12.88" fill="#4d6bc0"/>
<rect x="38.39" y="244.67" width="2.93" height="12.88" fill="#f8f5f8"/>
<rect x="41.32" y="244.67" width="2.93" height="12.88" fill="#f6b6ba"/>
<rect x="49.40" y="244.67" width="2.94" height="12.88" fill="#f8f5f8"/>
<rect x="52.34" y="244.67" width="2.94" height="12.88" fill="#f6b6ba"/>
<rect x="55.27" y="244.67" width="2.94" height="12.88" fill="#f8f5f8"/>
<rect x="58.21" y="244.67" width="2.94" height="12.88" fill="#f6b6ba"/>
<rect x="61.14" y="244.67" width="5.87" height="12.88" fill="#ea2129"/>
<rect x="67.02" y="244.67" width="2.94" height="12.88" fill="#f8f5f8"/>
<rect x="69.95" y="244.67" width="2.94" height="12.88" fill="#ea2129"/>
<rect x="72.89" y="244.67" width="2.94" height="12.88" fill="#f8f5f8"/>
<rect x="75.82" y="244.67" width="2.94" height="12.88" fill="#7f95d5"/>
<rect x="78.76" y="244.67" width="2.94" height="12.88" fill="#4d6bc0"/>
<rect x="81.70" y="244.67" width="2.94" height="12.88" fill="#ea2129"/>
<rect x="84.63" y="244.67" width="5.87" height="12.88" fill="#f8f5f8"/>
<rect x="90.50" y="244.67" width="2.94" height="12.88" fill="#b6c3eb"/>
<rect x="93.44" y="244.67" width="2.94" height="12.88" fill="#3550aa"/>
<rect x="96.38" y="244.67" width="2.94" height="12.88" fill="#f8f5f8"/>
<rect x="99.31" y="244.67" width="2.94" height="12.88" fill="#ef8085"/>
<rect x="102.25" y="244.67" width="2.94" height="12.88" fill="#f8f5f8"/>
<rect x="105.18" y="244.67" width="5.87" height="12.88" fill="#ea2129"/>
<rect x="111.06" y="244.67" width="2.94" height="12.88" fill="#f6b6ba"/>
<rect x="113.99" y="244.67" width="2.94" height="12.88" fill="#f8f5f8"/>
<rect x="116.93" y="244.67" width="2.94" height="12.88" fill="#ef8085"/>
<rect x="119.86" y="244.67" width="2.94" height="12.88" fill="#ee4c51"/>
<rect x="122.80" y="244.67" width="5.87" height="12.88" fill="#f8f5f8"/>
<rect x="128.67" y="244.67" width="2.94" height="12.88" fill="#f6b6ba"/>
<rect x="131.61" y="244.67" width="2.94" height="12.88" fill="#ea2129"/>
<rect x="134.54" y="244.67" width="5.87" height="12.88" fill="#b6c3eb"/>
<rect x="140.42" y="244.67" width="2.94" height="12.88" fill="#f8f5f8"/>
<rect x="143.35" y="244.67" width="2.94" height="12.88" fill="#ee4c51"/>
<rect x="151.70" y="244.67" width="5.82" height="12.88" fill="#b6c3eb"/>
<rect x="157.52" y="244.67" width="5.82" height="12.88" fill="#3550aa"/>
<rect x="163.35" y="244.67" width="2.91" height="12.88" fill="#7f95d5"/>
<rect x="166.26" y="244.67" width="2.91" height="12.88" fill="#4d6bc0"/>
<rect x="169.17" y="244.67" width="2.91" height="12.88" fill="#f8f5f8"/>
<rect x="172.08" y="244.67" width="2.91" height="12.88" fill="#4d6bc0"/>
<rect x="175.00" y="244.67" width="2.91" height="12.88" fill="#f8f5f8"/>
<rect x="177.91" y="244.67" width="2.91" height="12.88" fill="#ee4c51"/>
<rect x="180.82" y="244.67" width="2.91" height="12.88" fill="#b6c3eb"/>
<rect x="183.73" y="244.67" width="2.91" height="12.88" fill="#f8f5f8"/>
<rect x="186.64" y="244.67" width="2.91" height="12.88" fill="#ee4c51"/>
<rect x="189.56" y="244.67" width="8.74" height="12.88" fill="#4d6bc0"/>
<rect x="198.29" y="244.67" width="2.91" height="12.88" fill="#ea2129"/>
<rect x="201.20" y="244.67" width="5.82" height="12.88" fill="#4d6bc0"/>
<rect x="207.03" y="244.67" width="8.74" height="12.88" fill="#f8f5f8"/>
<rect x="215.76" y="244.67" width="2.91" height="12.88" fill="#4d6bc0"/>
<rect x="218.68" y="244.67" width="2.91" height="12.88" fill="#f8f5f8"/>
<rect x="221.59" y="244.67" width="2.91" height="12.88" fill="#4d6bc0"/>
</g>
<rect x="0" y="10.9" width="44.4" height="1.6" fill="#222"/>
<rect x="49.4" y="10.9" width="96.9" height="1.6" fill="#222"/>
<rect x="151.7" y="10.9" width="72.8" height="1.6" fill="#222"/>
<rect x="84.9" y="271.7" width="7" height="6.5" fill="#2f4aa6"/>
<rect x="91.9" y="271.7" width="6.7" height="6.5" fill="#5570c0"/>
<rect x="98.6" y="271.7" width="6.2" height="6.5" fill="#a6b6e4"/>
<rect x="112.1" y="271.7" width="6.2" height="6.5" fill="#f8b4b6"/>
<rect x="118.3" y="271.7" width="7.3" height="6.5" fill="#ef5558"/>
<rect x="125.6" y="271.7" width="6.2" height="6.5" fill="#ec2026"/>
</svg>
<div class="t" style="left:1.60px;top:-1.15px;font-size:11.4px;font-weight:bold;color:#111;width:8.23px;transform:scaleX(1.069);transform-origin:left center;">A</div><div class="t" style="left:12.60px;top:1.93px;font-size:8.0px;color:#1e1e1e;width:18.67px;transform:scaleX(0.964);transform-origin:left center;-webkit-text-stroke:0.3px currentColor;">FL-nt</div><div class="t" style="left:86.80px;top:1.93px;font-size:8.0px;color:#1e1e1e;width:18.67px;transform:scaleX(0.975);transform-origin:left center;-webkit-text-stroke:0.3px currentColor;">FL-pt</div><div class="t" style="left:171.60px;top:1.93px;font-size:8.0px;color:#1e1e1e;width:28.01px;transform:scaleX(0.907);transform-origin:left center;-webkit-text-stroke:0.3px currentColor;">tDLBCL</div><div class="t" style="left:229.20px;top:15.84px;font-size:7.8px;color:#1e1e1e;width:4.34px;transform:scaleX(0.946);transform-origin:left center;-webkit-text-stroke:0.3px currentColor;">1</div><div class="t" style="left:229.20px;top:28.71px;font-size:7.8px;color:#1e1e1e;width:4.34px;transform:scaleX(0.946);transform-origin:left center;-webkit-text-stroke:0.3px currentColor;">2</div><div class="t" style="left:229.20px;top:41.59px;font-size:7.8px;color:#1e1e1e;width:4.34px;transform:scaleX(0.946);transform-origin:left center;-webkit-text-stroke:0.3px currentColor;">3</div><div class="t" style="left:229.20px;top:54.46px;font-size:7.8px;color:#1e1e1e;width:4.34px;transform:scaleX(0.946);transform-origin:left center;-webkit-text-stroke:0.3px currentColor;">4</div><div class="t" style="left:229.20px;top:67.34px;font-size:7.8px;color:#1e1e1e;width:4.34px;transform:scaleX(0.946);transform-origin:left center;-webkit-text-stroke:0.3px currentColor;">5</div><div class="t" style="left:229.20px;top:80.22px;font-size:7.8px;color:#1e1e1e;width:4.34px;transform:scaleX(0.946);transform-origin:left center;-webkit-text-stroke:0.3px currentColor;">6</div><div class="t" style="left:229.20px;top:93.09px;font-size:7.8px;color:#1e1e1e;width:4.34px;transform:scaleX(0.946);transform-origin:left center;-webkit-text-stroke:0.3px currentColor;">7</div><div class="t" style="left:229.20px;top:105.97px;font-size:7.8px;color:#1e1e1e;width:4.34px;transform:scaleX(0.946);transform-origin:left center;-webkit-text-stroke:0.3px currentColor;">8</div><div class="t" style="left:229.20px;top:118.84px;font-size:7.8px;color:#1e1e1e;width:4.34px;transform:scaleX(0.946);transform-origin:left center;-webkit-text-stroke:0.3px currentColor;">9</div><div class="t" style="left:227.20px;top:131.72px;font-size:7.8px;color:#1e1e1e;width:8.68px;transform:scaleX(0.946);transform-origin:left center;-webkit-text-stroke:0.3px currentColor;">10</div><div class="t" style="left:227.20px;top:144.60px;font-size:7.8px;color:#1e1e1e;width:8.10px;transform:scaleX(1.014);transform-origin:left center;-webkit-text-stroke:0.3px currentColor;">11</div><div class="t" style="left:227.20px;top:157.47px;font-size:7.8px;color:#1e1e1e;width:8.68px;transform:scaleX(0.946);transform-origin:left center;-webkit-text-stroke:0.3px currentColor;">12</div><div class="t" style="left:227.20px;top:170.35px;font-size:7.8px;color:#1e1e1e;width:8.68px;transform:scaleX(0.946);transform-origin:left center;-webkit-text-stroke:0.3px currentColor;">13</div><div class="t" style="left:227.20px;top:183.22px;font-size:7.8px;color:#1e1e1e;width:8.68px;transform:scaleX(0.946);transform-origin:left center;-webkit-text-stroke:0.3px currentColor;">14</div><div class="t" style="left:227.20px;top:196.10px;font-size:7.8px;color:#1e1e1e;width:8.68px;transform:scaleX(0.946);transform-origin:left center;-webkit-text-stroke:0.3px currentColor;">15</div><div class="t" style="left:227.20px;top:208.98px;font-size:7.8px;color:#1e1e1e;width:8.68px;transform:scaleX(0.946);transform-origin:left center;-webkit-text-stroke:0.3px currentColor;">16</div><div class="t" style="left:227.20px;top:221.85px;font-size:7.8px;color:#1e1e1e;width:8.68px;transform:scaleX(0.946);transform-origin:left center;-webkit-text-stroke:0.3px currentColor;">17</div><div class="t" style="left:227.20px;top:234.73px;font-size:7.8px;color:#1e1e1e;width:8.68px;transform:scaleX(0.946);transform-origin:left center;-webkit-text-stroke:0.3px currentColor;">18</div><div class="t" style="left:227.20px;top:247.60px;font-size:7.8px;color:#1e1e1e;width:8.68px;transform:scaleX(0.946);transform-origin:left center;-webkit-text-stroke:0.3px currentColor;">19</div><div class="t" style="left:89.80px;top:261.71px;font-size:7.2px;color:#1e1e1e;width:39.63px;transform:scaleX(0.956);transform-origin:left center;-webkit-text-stroke:0.3px currentColor;">Fold change</div><div class="t" style="left:40.70px;top:271.71px;font-size:7.2px;color:#1e1e1e;width:43.49px;transform:scaleX(0.922);transform-origin:left center;-webkit-text-stroke:0.3px currentColor;">HT repressed</div><div class="t" style="left:137.00px;top:271.71px;font-size:7.2px;color:#1e1e1e;width:36.69px;transform:scaleX(0.954);transform-origin:left center;-webkit-text-stroke:0.3px currentColor;">HT induced</div><div class="t" style="left:246.10px;top:-1.13px;font-size:10.9px;font-weight:bold;color:#111;width:7.87px;transform:scaleX(0.915);transform-origin:left center;">B</div><div class="t" style="left:256.10px;top:4.88px;font-size:6.4px;color:#1e1e1e;width:20.99px;transform:scaleX(0.971);transform-origin:left center;">Module</div><div class="t" style="left:281.60px;top:4.88px;font-size:6.4px;color:#1e1e1e;width:20.28px;transform:scaleX(0.900);transform-origin:left center;">Source</div><div class="t" style="left:306.80px;top:4.88px;font-size:6.4px;color:#1e1e1e;width:25.97px;transform:scaleX(0.892);transform-origin:left center;">Gene set</div><div class="t" style="left:432.60px;top:4.88px;font-size:6.4px;color:#1e1e1e;width:22.41px;transform:scaleX(0.932);transform-origin:center center;">Overlap</div><div class="t" style="left:466.50px;top:4.88px;font-size:6.4px;color:#1e1e1e;width:20.99px;transform:scaleX(0.947);transform-origin:center center;">p-value</div><div class="t" style="left:499.22px;top:4.88px;font-size:6.4px;color:#1e1e1e;width:13.15px;transform:scaleX(0.818);transform-origin:center center;">FDR</div><div class="t" style="left:282.45px;top:14.60px;font-size:6.5px;color:#1e1e1e;width:19.51px;transform:scaleX(0.778);transform-origin:center center;">ICBPS</div><div class="t" style="left:306.80px;top:14.60px;font-size:6.5px;color:#1e1e1e;width:51.55px;transform:scaleX(0.867);transform-origin:left center;">Wong_Core_ESC</div><div class="t" style="left:429.84px;top:14.60px;font-size:6.5px;color:#1e1e1e;width:28.92px;transform:scaleX(0.941);transform-origin:center center;">17/94/224</div><div class="t" style="left:464.25px;top:14.60px;font-size:6.5px;color:#1e1e1e;width:25.90px;transform:scaleX(0.877);transform-origin:center center;">1.75E-11</div><div class="t" style="left:492.91px;top:14.60px;font-size:6.5px;color:#1e1e1e;width:26.38px;transform:scaleX(0.861);transform-origin:center center;">1.20E-07</div><div class="t" style="left:282.45px;top:23.91px;font-size:6.5px;color:#1e1e1e;width:19.51px;transform:scaleX(0.778);transform-origin:center center;">ICBPS</div><div class="t" style="left:306.80px;top:23.91px;font-size:6.5px;color:#1e1e1e;width:58.41px;transform:scaleX(0.887);transform-origin:left center;">Wong_Human_ESC</div><div class="t" style="left:429.84px;top:23.91px;font-size:6.5px;color:#1e1e1e;width:28.92px;transform:scaleX(0.941);transform-origin:center center;">31/94/770</div><div class="t" style="left:464.25px;top:23.91px;font-size:6.5px;color:#1e1e1e;width:25.90px;transform:scaleX(0.877);transform-origin:center center;">1.97E-11</div><div class="t" style="left:492.91px;top:23.91px;font-size:6.5px;color:#1e1e1e;width:26.38px;transform:scaleX(0.861);transform-origin:center center;">1.30E-07</div><div class="t" style="left:282.09px;top:33.22px;font-size:6.5px;color:#1e1e1e;width:20.23px;transform:scaleX(0.813);transform-origin:center center;">SIGDB</div><div class="t" style="left:306.80px;top:33.22px;font-size:6.5px;color:#1e1e1e;width:89.60px;transform:scaleX(0.870);transform-origin:left center;">245_Myc_ChIP_PET_Expr_Up</div><div class="t" style="left:429.84px;top:33.22px;font-size:6.5px;color:#1e1e1e;width:28.92px;transform:scaleX(0.941);transform-origin:center center;">16/94/193</div><div class="t" style="left:464.01px;top:33.22px;font-size:6.5px;color:#1e1e1e;width:26.38px;transform:scaleX(0.861);transform-origin:center center;">1.28E-10</div><div class="t" style="left:492.91px;top:33.22px;font-size:6.5px;color:#1e1e1e;width:26.38px;transform:scaleX(0.861);transform-origin:center center;">6.04E-07</div><div class="t" style="left:282.09px;top:42.53px;font-size:6.5px;color:#1e1e1e;width:20.23px;transform:scaleX(0.813);transform-origin:center center;">SIGDB</div><div class="t" style="left:306.80px;top:42.53px;font-size:6.5px;color:#1e1e1e;width:58.41px;transform:scaleX(0.887);transform-origin:left center;">ShafferIRF4_targets</div><div class="t" style="left:429.84px;top:42.53px;font-size:6.5px;color:#1e1e1e;width:28.92px;transform:scaleX(0.941);transform-origin:center center;">15/94/180</div><div class="t" style="left:464.01px;top:42.53px;font-size:6.5px;color:#1e1e1e;width:26.38px;transform:scaleX(0.861);transform-origin:center center;">4.31E-09</div><div class="t" style="left:492.91px;top:42.53px;font-size:6.5px;color:#1e1e1e;width:26.38px;transform:scaleX(0.861);transform-origin:center center;">1.36E-05</div><div class="t" style="left:282.45px;top:51.84px;font-size:6.5px;color:#1e1e1e;width:19.51px;transform:scaleX(0.778);transform-origin:center center;">ICBPS</div><div class="t" style="left:306.80px;top:51.84px;font-size:6.5px;color:#1e1e1e;width:58.41px;transform:scaleX(0.887);transform-origin:left center;">Wong_Human_ESC</div><div class="t" style="left:429.84px;top:51.84px;font-size:6.5px;color:#1e1e1e;width:28.92px;transform:scaleX(0.941);transform-origin:center center;">23/70/770</div><div class="t" style="left:464.01px;top:51.84px;font-size:6.5px;color:#1e1e1e;width:26.38px;transform:scaleX(0.861);transform-origin:center center;">8.77E-09</div><div class="t" style="left:492.91px;top:51.84px;font-size:6.5px;color:#1e1e1e;width:26.38px;transform:scaleX(0.861);transform-origin:center center;">2.37E-05</div><div class="t" style="left:282.09px;top:61.15px;font-size:6.5px;color:#1e1e1e;width:20.23px;transform:scaleX(0.813);transform-origin:center center;">SIGDB</div><div class="t" style="left:306.80px;top:61.15px;font-size:6.5px;color:#1e1e1e;width:79.51px;transform:scaleX(0.908);transform-origin:left center;">193_HIF1alpha_1.5x_down</div><div class="t" style="left:431.65px;top:61.15px;font-size:6.5px;color:#1e1e1e;width:25.30px;transform:scaleX(0.946);transform-origin:center center;">9/70/106</div><div class="t" style="left:464.01px;top:61.15px;font-size:6.5px;color:#1e1e1e;width:26.38px;transform:scaleX(0.861);transform-origin:center center;">1.96E-08</div><div class="t" style="left:492.91px;top:61.15px;font-size:6.5px;color:#1e1e1e;width:26.38px;transform:scaleX(0.861);transform-origin:center center;">4.56E-05</div><div class="t" style="left:282.09px;top:70.46px;font-size:6.5px;color:#1e1e1e;width:20.23px;transform:scaleX(0.813);transform-origin:center center;">SIGDB</div><div class="t" style="left:306.80px;top:70.46px;font-size:6.5px;color:#1e1e1e;width:56.37px;transform:scaleX(0.897);transform-origin:left center;">157_Cell_cycle_Liu</div><div class="t" style="left:429.84px;top:70.46px;font-size:6.5px;color:#1e1e1e;width:28.92px;transform:scaleX(0.941);transform-origin:center center;">27/60/125</div><div class="t" style="left:464.01px;top:70.46px;font-size:6.5px;color:#1e1e1e;width:26.38px;transform:scaleX(0.861);transform-origin:center center;">7.14E-34</div><div class="t" style="left:492.91px;top:70.46px;font-size:6.5px;color:#1e1e1e;width:26.38px;transform:scaleX(0.861);transform-origin:center center;">1.25E-28</div><div class="t" style="left:282.45px;top:79.77px;font-size:6.5px;color:#1e1e1e;width:19.51px;transform:scaleX(0.778);transform-origin:center center;">ICBPS</div><div class="t" style="left:306.80px;top:79.77px;font-size:6.5px;color:#1e1e1e;width:88.89px;transform:scaleX(0.919);transform-origin:left center;">Ben-Porath_Proliferationgenes</div><div class="t" style="left:429.84px;top:79.77px;font-size:6.5px;color:#1e1e1e;width:28.92px;transform:scaleX(0.941);transform-origin:center center;">27/60/210</div><div class="t" style="left:464.01px;top:79.77px;font-size:6.5px;color:#1e1e1e;width:26.38px;transform:scaleX(0.861);transform-origin:center center;">2.20E-27</div><div class="t" style="left:492.91px;top:79.77px;font-size:6.5px;color:#1e1e1e;width:26.38px;transform:scaleX(0.861);transform-origin:center center;">7.73E-23</div><div class="t" style="left:282.45px;top:89.08px;font-size:6.5px;color:#1e1e1e;width:19.51px;transform:scaleX(0.778);transform-origin:center center;">ICBPS</div><div class="t" style="left:306.80px;top:89.08px;font-size:6.5px;color:#1e1e1e;width:56.97px;transform:scaleX(0.879);transform-origin:left center;">Wong_Mouse_ESC</div><div class="t" style="left:429.84px;top:89.08px;font-size:6.5px;color:#1e1e1e;width:28.92px;transform:scaleX(0.941);transform-origin:center center;">22/79/706</div><div class="t" style="left:464.01px;top:89.08px;font-size:6.5px;color:#1e1e1e;width:26.38px;transform:scaleX(0.861);transform-origin:center center;">8.51E-08</div><div class="t" style="left:492.91px;top:89.08px;font-size:6.5px;color:#1e1e1e;width:26.38px;transform:scaleX(0.861);transform-origin:center center;">1.35E-04</div><div class="t" style="left:282.45px;top:98.39px;font-size:6.5px;color:#1e1e1e;width:19.51px;transform:scaleX(0.778);transform-origin:center center;">ICBPS</div><div class="t" style="left:306.80px;top:98.39px;font-size:6.5px;color:#1e1e1e;width:50.21px;transform:scaleX(0.920);transform-origin:left center;">Kim_Myc_targets</div><div class="t" style="left:428.03px;top:98.39px;font-size:6.5px;color:#1e1e1e;width:32.53px;transform:scaleX(0.936);transform-origin:center center;">28/79/1400</div><div class="t" style="left:464.01px;top:98.39px;font-size:6.5px;color:#1e1e1e;width:26.38px;transform:scaleX(0.861);transform-origin:center center;">3.13E-05</div><div class="t" style="left:492.91px;top:98.39px;font-size:6.5px;color:#1e1e1e;width:26.38px;transform:scaleX(0.861);transform-origin:center center;">1.60E-02</div><div class="t" style="left:282.45px;top:107.70px;font-size:6.5px;color:#1e1e1e;width:19.51px;transform:scaleX(0.778);transform-origin:center center;">ICBPS</div><div class="t" style="left:306.80px;top:107.70px;font-size:6.5px;color:#1e1e1e;width:115.26px;transform:scaleX(0.908);transform-origin:left center;">Krivtsov_Leukemia_SelfRenewal_Down</div><div class="t" style="left:432.13px;top:107.70px;font-size:6.5px;color:#1e1e1e;width:24.34px;transform:scaleX(0.984);transform-origin:center center;">7/79/111</div><div class="t" style="left:464.01px;top:107.70px;font-size:6.5px;color:#1e1e1e;width:26.38px;transform:scaleX(0.861);transform-origin:center center;">9.60E-05</div><div class="t" style="left:492.91px;top:107.70px;font-size:6.5px;color:#1e1e1e;width:26.38px;transform:scaleX(0.861);transform-origin:center center;">3.59E-02</div><div class="t" style="left:279.38px;top:117.01px;font-size:6.5px;color:#1e1e1e;width:25.64px;transform:scaleX(0.848);transform-origin:center center;">mSIGDB</div><div class="t" style="left:306.80px;top:117.01px;font-size:6.5px;color:#1e1e1e;width:77.91px;transform:scaleX(0.888);transform-origin:left center;">HUMAN_MITODB_6_2002</div><div class="t" style="left:430.08px;top:117.01px;font-size:6.5px;color:#1e1e1e;width:28.43px;transform:scaleX(0.957);transform-origin:center center;">11/80/230</div><div class="t" style="left:464.01px;top:117.01px;font-size:6.5px;color:#1e1e1e;width:26.38px;transform:scaleX(0.861);transform-origin:center center;">2.03E-05</div><div class="t" style="left:492.91px;top:117.01px;font-size:6.5px;color:#1e1e1e;width:26.38px;transform:scaleX(0.861);transform-origin:center center;">1.17E-02</div><div class="t" style="left:279.38px;top:126.32px;font-size:6.5px;color:#1e1e1e;width:25.64px;transform:scaleX(0.848);transform-origin:center center;">mSIGDB</div><div class="t" style="left:306.80px;top:126.32px;font-size:6.5px;color:#1e1e1e;width:89.83px;transform:scaleX(0.819);transform-origin:left center;">STEMCELL_EMBRYONIC_UP</div><div class="t" style="left:428.03px;top:126.32px;font-size:6.5px;color:#1e1e1e;width:32.53px;transform:scaleX(0.936);transform-origin:center center;">52/133/829</div><div class="t" style="left:464.01px;top:126.32px;font-size:6.5px;color:#1e1e1e;width:26.38px;transform:scaleX(0.861);transform-origin:center center;">8.62E-20</div><div class="t" style="left:492.91px;top:126.32px;font-size:6.5px;color:#1e1e1e;width:26.38px;transform:scaleX(0.861);transform-origin:center center;">1.42E-14</div><div class="t" style="left:282.45px;top:135.63px;font-size:6.5px;color:#1e1e1e;width:19.51px;transform:scaleX(0.778);transform-origin:center center;">ICBPS</div><div class="t" style="left:306.80px;top:135.63px;font-size:6.5px;color:#1e1e1e;width:50.21px;transform:scaleX(0.920);transform-origin:left center;">Kim_Myc_targets</div><div class="t" style="left:426.23px;top:135.63px;font-size:6.5px;color:#1e1e1e;width:36.15px;transform:scaleX(0.933);transform-origin:center center;">49/133/1400</div><div class="t" style="left:464.01px;top:135.63px;font-size:6.5px;color:#1e1e1e;width:26.38px;transform:scaleX(0.861);transform-origin:center center;">8.85E-09</div><div class="t" style="left:492.91px;top:135.63px;font-size:6.5px;color:#1e1e1e;width:26.38px;transform:scaleX(0.861);transform-origin:center center;">2.35E-05</div><div class="t" style="left:282.45px;top:144.94px;font-size:6.5px;color:#1e1e1e;width:19.51px;transform:scaleX(0.778);transform-origin:center center;">ICBPS</div><div class="t" style="left:306.80px;top:144.94px;font-size:6.5px;color:#1e1e1e;width:90.69px;transform:scaleX(0.908);transform-origin:left center;">Chen_<i>n</i>-Myc_geneassociations</div><div class="t" style="left:426.23px;top:144.94px;font-size:6.5px;color:#1e1e1e;width:36.15px;transform:scaleX(0.933);transform-origin:center center;">60/133/1957</div><div class="t" style="left:464.01px;top:144.94px;font-size:6.5px;color:#1e1e1e;width:26.38px;transform:scaleX(0.861);transform-origin:center center;">1.51E-08</div><div class="t" style="left:492.91px;top:144.94px;font-size:6.5px;color:#1e1e1e;width:26.38px;transform:scaleX(0.861);transform-origin:center center;">3.61E-05</div><div class="t" style="left:279.38px;top:154.25px;font-size:6.5px;color:#1e1e1e;width:25.64px;transform:scaleX(0.848);transform-origin:center center;">mSIGDB</div><div class="t" style="left:306.80px;top:154.25px;font-size:6.5px;color:#1e1e1e;width:127.27px;transform:scaleX(0.824);transform-origin:left center;">GLYCOLYSIS_AND_GLUCONEOGENESIS</div><div class="t" style="left:433.46px;top:154.25px;font-size:6.5px;color:#1e1e1e;width:21.69px;transform:scaleX(0.953);transform-origin:center center;">6/68/26</div><div class="t" style="left:464.01px;top:154.25px;font-size:6.5px;color:#1e1e1e;width:26.38px;transform:scaleX(0.861);transform-origin:center center;">6.42E-08</div><div class="t" style="left:492.91px;top:154.25px;font-size:6.5px;color:#1e1e1e;width:26.38px;transform:scaleX(0.861);transform-origin:center center;">1.07E-04</div><div class="t" style="left:282.45px;top:163.56px;font-size:6.5px;color:#1e1e1e;width:19.51px;transform:scaleX(0.778);transform-origin:center center;">ICBPS</div><div class="t" style="left:306.80px;top:163.56px;font-size:6.5px;color:#1e1e1e;width:58.41px;transform:scaleX(0.887);transform-origin:left center;">Wong_Human_ESC</div><div class="t" style="left:429.84px;top:163.56px;font-size:6.5px;color:#1e1e1e;width:28.92px;transform:scaleX(0.941);transform-origin:center center;">20/68/770</div><div class="t" style="left:464.01px;top:163.56px;font-size:6.5px;color:#1e1e1e;width:26.38px;transform:scaleX(0.861);transform-origin:center center;">6.33E-07</div><div class="t" style="left:492.91px;top:163.56px;font-size:6.5px;color:#1e1e1e;width:26.38px;transform:scaleX(0.861);transform-origin:center center;">6.91E-04</div><div class="t" style="left:279.38px;top:172.87px;font-size:6.5px;color:#1e1e1e;width:25.64px;transform:scaleX(0.848);transform-origin:center center;">mSIGDB</div><div class="t" style="left:306.80px;top:172.87px;font-size:6.5px;color:#1e1e1e;width:100.06px;transform:scaleX(0.801);transform-origin:left center;">CHOLESTEROL_BIOSYNTHESIS</div><div class="t" style="left:435.26px;top:172.87px;font-size:6.5px;color:#1e1e1e;width:18.07px;transform:scaleX(0.964);transform-origin:center center;">3/64/9</div><div class="t" style="left:464.25px;top:172.87px;font-size:6.5px;color:#1e1e1e;width:25.90px;transform:scaleX(0.877);transform-origin:center center;">3.11E-05</div><div class="t" style="left:492.91px;top:172.87px;font-size:6.5px;color:#1e1e1e;width:26.38px;transform:scaleX(0.861);transform-origin:center center;">1.60E-02</div><div class="t" style="left:282.45px;top:182.18px;font-size:6.5px;color:#1e1e1e;width:19.51px;transform:scaleX(0.778);transform-origin:center center;">ICBPS</div><div class="t" style="left:306.80px;top:182.18px;font-size:6.5px;color:#1e1e1e;width:86.37px;transform:scaleX(0.896);transform-origin:left center;">Chen_E2f1_geneassociations</div><div class="t" style="left:428.03px;top:182.18px;font-size:6.5px;color:#1e1e1e;width:32.53px;transform:scaleX(0.936);transform-origin:center center;">60/94/3524</div><div class="t" style="left:464.01px;top:182.18px;font-size:6.5px;color:#1e1e1e;width:26.38px;transform:scaleX(0.861);transform-origin:center center;">1.91E-05</div><div class="t" style="left:493.15px;top:182.18px;font-size:6.5px;color:#1e1e1e;width:25.90px;transform:scaleX(0.877);transform-origin:center center;">1.11E-02</div><div class="t" style="left:279.38px;top:191.49px;font-size:6.5px;color:#1e1e1e;width:25.64px;transform:scaleX(0.848);transform-origin:center center;">mSIGDB</div><div class="t" style="left:306.80px;top:191.49px;font-size:6.5px;color:#1e1e1e;width:56.73px;transform:scaleX(0.802);transform-origin:left center;">LEE_TCELLS2_UP</div><div class="t" style="left:428.03px;top:191.49px;font-size:6.5px;color:#1e1e1e;width:32.53px;transform:scaleX(0.936);transform-origin:center center;">34/130/671</div><div class="t" style="left:464.25px;top:191.49px;font-size:6.5px;color:#1e1e1e;width:25.90px;transform:scaleX(0.877);transform-origin:center center;">4.47E-11</div><div class="t" style="left:492.91px;top:191.49px;font-size:6.5px;color:#1e1e1e;width:26.38px;transform:scaleX(0.861);transform-origin:center center;">2.54E-07</div><div class="t" style="left:279.38px;top:200.80px;font-size:6.5px;color:#1e1e1e;width:25.64px;transform:scaleX(0.848);transform-origin:center center;">mSIGDB</div><div class="t" style="left:306.80px;top:200.80px;font-size:6.5px;color:#1e1e1e;width:135.11px;transform:scaleX(0.838);transform-origin:left center;">BOQUEST_CD31PLUS_VS_CD31MINUS_UP</div><div class="t" style="left:429.84px;top:200.80px;font-size:6.5px;color:#1e1e1e;width:28.92px;transform:scaleX(0.941);transform-origin:center center;">15/57/449</div><div class="t" style="left:464.01px;top:200.80px;font-size:6.5px;color:#1e1e1e;width:26.38px;transform:scaleX(0.861);transform-origin:center center;">2.14E-07</div><div class="t" style="left:492.91px;top:200.80px;font-size:6.5px;color:#1e1e1e;width:26.38px;transform:scaleX(0.861);transform-origin:center center;">2.82E-04</div><div class="t" style="left:282.45px;top:210.11px;font-size:6.5px;color:#1e1e1e;width:19.51px;transform:scaleX(0.778);transform-origin:center center;">ICBPS</div><div class="t" style="left:306.80px;top:210.11px;font-size:6.5px;color:#1e1e1e;width:91.43px;transform:scaleX(0.894);transform-origin:left center;">Chen_Suz12_geneassociations</div><div class="t" style="left:429.84px;top:210.11px;font-size:6.5px;color:#1e1e1e;width:28.92px;transform:scaleX(0.941);transform-origin:center center;">15/57/550</div><div class="t" style="left:464.01px;top:210.11px;font-size:6.5px;color:#1e1e1e;width:26.38px;transform:scaleX(0.861);transform-origin:center center;">5.01E-06</div><div class="t" style="left:492.91px;top:210.11px;font-size:6.5px;color:#1e1e1e;width:26.38px;transform:scaleX(0.861);transform-origin:center center;">3.87E-03</div><div class="t" style="left:282.45px;top:219.42px;font-size:6.5px;color:#1e1e1e;width:19.51px;transform:scaleX(0.778);transform-origin:center center;">ICBPS</div><div class="t" style="left:306.80px;top:219.42px;font-size:6.5px;color:#1e1e1e;width:67.45px;transform:scaleX(0.912);transform-origin:left center;">Wong_Mouse_AdultSC</div><div class="t" style="left:430.08px;top:219.42px;font-size:6.5px;color:#1e1e1e;width:28.43px;transform:scaleX(0.957);transform-origin:center center;">11/57/410</div><div class="t" style="left:464.01px;top:219.42px;font-size:6.5px;color:#1e1e1e;width:26.38px;transform:scaleX(0.861);transform-origin:center center;">9.68E-05</div><div class="t" style="left:492.91px;top:219.42px;font-size:6.5px;color:#1e1e1e;width:26.38px;transform:scaleX(0.861);transform-origin:center center;">3.60E-02</div><div class="t" style="left:279.38px;top:228.73px;font-size:6.5px;color:#1e1e1e;width:25.64px;transform:scaleX(0.848);transform-origin:center center;">mSIGDB</div><div class="t" style="left:306.80px;top:228.73px;font-size:6.5px;color:#1e1e1e;width:56.22px;transform:scaleX(0.844);transform-origin:left center;">CTTTGTA,MIR-524</div><div class="t" style="left:428.03px;top:228.73px;font-size:6.5px;color:#1e1e1e;width:32.53px;transform:scaleX(0.936);transform-origin:center center;">13/102/262</div><div class="t" style="left:464.01px;top:228.73px;font-size:6.5px;color:#1e1e1e;width:26.38px;transform:scaleX(0.861);transform-origin:center center;">1.68E-05</div><div class="t" style="left:492.91px;top:228.73px;font-size:6.5px;color:#1e1e1e;width:26.38px;transform:scaleX(0.861);transform-origin:center center;">1.01E-02</div><div class="t" style="left:282.09px;top:238.04px;font-size:6.5px;color:#1e1e1e;width:20.23px;transform:scaleX(0.813);transform-origin:center center;">SIGDB</div><div class="t" style="left:306.80px;top:238.04px;font-size:6.5px;color:#1e1e1e;width:75.16px;transform:scaleX(0.905);transform-origin:left center;">52_Quiescence_heme_all</div><div class="t" style="left:429.84px;top:238.04px;font-size:6.5px;color:#1e1e1e;width:28.92px;transform:scaleX(0.941);transform-origin:center center;">9/102/141</div><div class="t" style="left:464.01px;top:238.04px;font-size:6.5px;color:#1e1e1e;width:26.38px;transform:scaleX(0.861);transform-origin:center center;">4.80E-05</div><div class="t" style="left:492.91px;top:238.04px;font-size:6.5px;color:#1e1e1e;width:26.38px;transform:scaleX(0.861);transform-origin:center center;">2.22E-02</div><div class="t" style="left:279.38px;top:247.35px;font-size:6.5px;color:#1e1e1e;width:25.64px;transform:scaleX(0.848);transform-origin:center center;">mSIGDB</div><div class="t" style="left:306.80px;top:247.35px;font-size:6.5px;color:#1e1e1e;width:43.71px;transform:scaleX(0.866);transform-origin:left center;">POD1_KO_DN</div><div class="t" style="left:429.84px;top:247.35px;font-size:6.5px;color:#1e1e1e;width:28.92px;transform:scaleX(0.941);transform-origin:center center;">16/77/446</div><div class="t" style="left:464.01px;top:247.35px;font-size:6.5px;color:#1e1e1e;width:26.38px;transform:scaleX(0.861);transform-origin:center center;">3.53E-06</div><div class="t" style="left:492.91px;top:247.35px;font-size:6.5px;color:#1e1e1e;width:26.38px;transform:scaleX(0.861);transform-origin:center center;">2.92E-03</div><div class="t" style="left:279.38px;top:256.66px;font-size:6.5px;color:#1e1e1e;width:25.64px;transform:scaleX(0.848);transform-origin:center center;">mSIGDB</div><div class="t" style="left:306.80px;top:256.66px;font-size:6.5px;color:#1e1e1e;width:34.55px;transform:scaleX(0.828);transform-origin:left center;">HTERT_DN</div><div class="t" style="left:433.46px;top:256.66px;font-size:6.5px;color:#1e1e1e;width:21.69px;transform:scaleX(0.953);transform-origin:center center;">6/53/47</div><div class="t" style="left:464.01px;top:256.66px;font-size:6.5px;color:#1e1e1e;width:26.38px;transform:scaleX(0.861);transform-origin:center center;">5.01E-07</div><div class="t" style="left:492.91px;top:256.66px;font-size:6.5px;color:#1e1e1e;width:26.38px;transform:scaleX(0.861);transform-origin:center center;">5.99E-04</div><div class="t" style="left:282.09px;top:265.97px;font-size:6.5px;color:#1e1e1e;width:20.23px;transform:scaleX(0.813);transform-origin:center center;">SIGDB</div><div class="t" style="left:306.80px;top:265.97px;font-size:6.5px;color:#1e1e1e;width:28.18px;transform:scaleX(0.890);transform-origin:left center;">35_T_cell</div><div class="t" style="left:433.46px;top:265.97px;font-size:6.5px;color:#1e1e1e;width:21.69px;transform:scaleX(0.953);transform-origin:center center;">8/64/12</div><div class="t" style="left:464.01px;top:265.97px;font-size:6.5px;color:#1e1e1e;width:26.38px;transform:scaleX(0.861);transform-origin:center center;">7.88E-15</div><div class="t" style="left:492.91px;top:265.97px;font-size:6.5px;color:#1e1e1e;width:26.38px;transform:scaleX(0.861);transform-origin:center center;">1.86E-10</div><div class="t" style="left:279.38px;top:275.28px;font-size:6.5px;color:#1e1e1e;width:25.64px;transform:scaleX(0.848);transform-origin:center center;">mSIGDB</div><div class="t" style="left:306.80px;top:275.28px;font-size:6.5px;color:#1e1e1e;width:37.21px;transform:scaleX(0.872);transform-origin:left center;">V$MAZR_01</div><div class="t" style="left:431.65px;top:275.28px;font-size:6.5px;color:#1e1e1e;width:25.30px;transform:scaleX(0.946);transform-origin:center center;">7/94/102</div><div class="t" style="left:463.64px;top:275.28px;font-size:6.5px;color:#1e1e1e;width:27.11px;transform:scaleX(0.891);transform-origin:center center;">0.000143</div><div class="t" style="left:492.91px;top:275.28px;font-size:6.5px;color:#1e1e1e;width:26.38px;transform:scaleX(0.861);transform-origin:center center;">4.67E-02</div><div class="t" style="left:272.19px;top:28.56px;font-size:6.5px;color:#1e1e1e;width:3.62px;transform:scaleX(0.903);transform-origin:center center;">1</div><div class="t" style="left:272.19px;top:56.49px;font-size:6.5px;color:#1e1e1e;width:3.62px;transform:scaleX(0.903);transform-origin:center center;">2</div><div class="t" style="left:272.19px;top:75.11px;font-size:6.5px;color:#1e1e1e;width:3.62px;transform:scaleX(0.903);transform-origin:center center;">3</div><div class="t" style="left:272.19px;top:98.39px;font-size:6.5px;color:#1e1e1e;width:3.62px;transform:scaleX(0.903);transform-origin:center center;">4</div><div class="t" style="left:272.19px;top:117.01px;font-size:6.5px;color:#1e1e1e;width:3.62px;transform:scaleX(0.903);transform-origin:center center;">5</div><div class="t" style="left:272.19px;top:135.63px;font-size:6.5px;color:#1e1e1e;width:3.62px;transform:scaleX(0.903);transform-origin:center center;">6</div><div class="t" style="left:272.19px;top:158.90px;font-size:6.5px;color:#1e1e1e;width:3.62px;transform:scaleX(0.903);transform-origin:center center;">7</div><div class="t" style="left:272.19px;top:172.87px;font-size:6.5px;color:#1e1e1e;width:3.62px;transform:scaleX(0.903);transform-origin:center center;">8</div><div class="t" style="left:270.38px;top:182.18px;font-size:6.5px;color:#1e1e1e;width:7.23px;transform:scaleX(0.903);transform-origin:center center;">10</div><div class="t" style="left:270.63px;top:191.49px;font-size:6.5px;color:#1e1e1e;width:6.75px;transform:scaleX(0.967);transform-origin:center center;">11</div><div class="t" style="left:270.38px;top:210.11px;font-size:6.5px;color:#1e1e1e;width:7.23px;transform:scaleX(0.903);transform-origin:center center;">13</div><div class="t" style="left:270.38px;top:233.38px;font-size:6.5px;color:#1e1e1e;width:7.23px;transform:scaleX(0.903);transform-origin:center center;">14</div><div class="t" style="left:270.38px;top:247.35px;font-size:6.5px;color:#1e1e1e;width:7.23px;transform:scaleX(0.903);transform-origin:center center;">16</div><div class="t" style="left:270.38px;top:256.66px;font-size:6.5px;color:#1e1e1e;width:7.23px;transform:scaleX(0.903);transform-origin:center center;">17</div><div class="t" style="left:270.38px;top:265.97px;font-size:6.5px;color:#1e1e1e;width:7.23px;transform:scaleX(0.903);transform-origin:center center;">18</div><div class="t" style="left:270.38px;top:275.28px;font-size:6.5px;color:#1e1e1e;width:7.23px;transform:scaleX(0.903);transform-origin:center center;">19</div>
<div class="t" style="left:84.8px;top:287.4px;font-size:6.5px;color:#222;transform:rotate(-90deg);transform-origin:left top;-webkit-text-stroke:0.25px #222;">-4</div>
<div class="t" style="left:105.2px;top:284.6px;font-size:6.5px;color:#222;transform:rotate(-90deg);transform-origin:left top;-webkit-text-stroke:0.25px #222;">0</div>
<div class="t" style="left:125.4px;top:287.6px;font-size:6.5px;color:#222;transform:rotate(-90deg);transform-origin:left top;-webkit-text-stroke:0.25px #222;">+4</div>
</div></body></html>
